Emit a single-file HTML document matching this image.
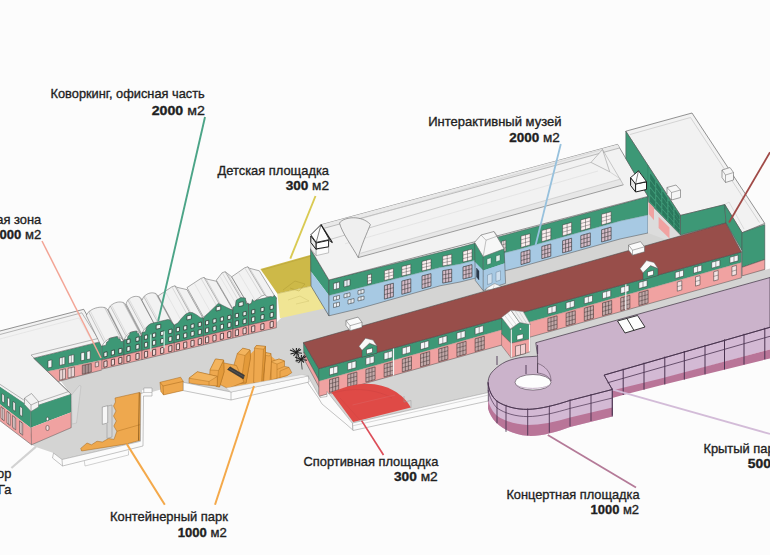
<!DOCTYPE html>
<html><head><meta charset="utf-8"><title>plan</title>
<style>
html,body{margin:0;padding:0;background:#fcfcfc;}
body{width:770px;height:555px;overflow:hidden;}
svg{display:block;font-family:"Liberation Sans",sans-serif;}
svg text{fill:#1f1f1f;stroke:#1f1f1f;stroke-width:0.35px;}
</style></head><body>
<svg width="770" height="555" viewBox="0 0 770 555">
<rect x="0" y="0" width="770" height="555" fill="#fcfcfc"/>
<polygon points="31.5,444.8 36.0,447.0 53.5,453.0 62.0,459.5 139.5,441.5 142.0,441.0 142.0,390.0 152.0,392.0 160.8,389.5 183.3,383.0 231.0,392.0 308.3,376.0 320.0,397.0 327.0,392.0 352.5,423.0 488.0,392.5 538.0,384.0 538.0,343.5 770.0,278.0 770.0,268.5 764.9,270.0 764.9,226.0 690.0,215.0 640.0,200.0 329.0,290.0 300.0,300.0 277.0,322.0 100.0,365.0 60.0,380.0 71.0,395.0 71.2,427.7" fill="#d4d4d3" />
<polygon points="260.4,269.0 311.0,254.7 312.3,285.8 277.3,293.6" fill="#cdb948" />
<polygon points="277.3,293.6 312.3,285.8 326.6,308.0 280.0,318.3" fill="#f0e594" />
<polyline points="283.0,290.0 295.0,281.0 305.0,284.0 299.0,291.0 290.0,288.0" fill="none" stroke="#a8962f" stroke-width="0.4" stroke-linejoin="round" />
<polyline points="288.0,300.0 300.0,296.0 309.0,301.0 296.0,304.0" fill="none" stroke="#c9bd6a" stroke-width="0.4" stroke-linejoin="round" />
<line x1="262.0" y1="270.0" x2="311.0" y2="256.0" stroke="#a8962f" stroke-width="0.4" />
<line x1="277.3" y1="293.6" x2="312.3" y2="285.8" stroke="#b5a545" stroke-width="0.5" />
<polygon points="33.6,358.3 101.8,341.4 101.8,360.1 33.6,374.2" fill="#3d9876" />
<polygon points="33.6,374.2 101.8,360.1 101.8,370.0 33.6,388.0" fill="#f0a2a1" />
<polyline points="33.6,374.2 101.8,360.1" fill="none" stroke="#6a8f7f" stroke-width="0.4" stroke-linejoin="round" />
<polyline points="33.6,388.0 101.8,370.0" fill="none" stroke="#4d4d4d" stroke-width="0.5" stroke-linejoin="round" />
<polygon points="48.0,360.7 51.8,359.8 51.8,367.1 48.0,367.9" fill="#f4f8f8" stroke="#2e2e2e" stroke-width="0.5" stroke-linejoin="round" />
<polygon points="59.6,358.0 64.8,356.8 64.8,364.3 59.6,365.4" fill="#f4f8f8" stroke="#2e2e2e" stroke-width="0.5" stroke-linejoin="round" />
<line x1="62.2" y1="357.4" x2="62.2" y2="364.9" stroke="#2e2e2e" stroke-width="0.45" />
<polygon points="68.7,355.8 73.9,354.6 73.9,362.4 68.7,363.5" fill="#f4f8f8" stroke="#2e2e2e" stroke-width="0.5" stroke-linejoin="round" />
<line x1="71.3" y1="355.2" x2="71.3" y2="362.9" stroke="#2e2e2e" stroke-width="0.45" />
<polygon points="81.0,353.0 84.4,352.2 84.4,360.1 81.0,360.8" fill="#f4f8f8" stroke="#2e2e2e" stroke-width="0.5" stroke-linejoin="round" />
<polygon points="86.9,351.6 90.2,350.8 90.2,358.9 86.9,359.6" fill="#f4f8f8" stroke="#2e2e2e" stroke-width="0.5" stroke-linejoin="round" />
<polygon points="59.6,370.1 65.5,368.8 65.5,378.6 59.6,380.2" fill="#e9d5d5" stroke="#3a2e2e" stroke-width="0.5" stroke-linejoin="round" />
<line x1="62.6" y1="369.4" x2="62.6" y2="379.4" stroke="#3a2e2e" stroke-width="0.45" />
<polygon points="68.0,368.3 74.5,366.9 74.5,376.3 68.0,378.0" fill="#e9d5d5" stroke="#3a2e2e" stroke-width="0.5" stroke-linejoin="round" />
<line x1="71.2" y1="367.6" x2="71.2" y2="377.1" stroke="#3a2e2e" stroke-width="0.45" />
<polygon points="82.3,365.5 91.3,363.5 91.3,371.9 82.3,374.3" fill="#a89090" stroke="#3a2e2e" stroke-width="0.5" stroke-linejoin="round" />
<line x1="85.3" y1="364.8" x2="85.3" y2="373.5" stroke="#3a2e2e" stroke-width="0.45" />
<line x1="88.3" y1="364.2" x2="88.3" y2="372.7" stroke="#3a2e2e" stroke-width="0.45" />
<polygon points="95.3,362.5 98.6,361.8 98.6,366.3 95.3,367.1" fill="#e9d5d5" stroke="#3a2e2e" stroke-width="0.5" stroke-linejoin="round" />
<polygon points="-2.0,331.5 83.7,309.3 100.9,340.0 100.0,341.8 33.6,358.2 71.2,394.3 30.6,407.8 -2.0,386.0" fill="#f2f2f2" stroke="#4d4d4d" stroke-width="0.6" stroke-linejoin="round" />
<polyline points="-2.0,335.0 81.8,312.8 98.0,338.5 31.0,355.0 68.5,391.6 30.6,404.5 -2.0,383.0" fill="none" stroke="#777" stroke-width="0.5" stroke-linejoin="round" />
<polyline points="-2.0,339.5 79.0,318.0 91.0,339.5" fill="none" stroke="#d8d8d8" stroke-width="0.5" stroke-linejoin="round" />
<polygon points="-2.0,385.7 30.6,407.8 30.6,427.7 -2.0,402.8" fill="#3d9876" />
<polygon points="-2.0,402.8 30.6,427.7 31.5,444.8 -2.0,419.3" fill="#f0a2a1" />
<polygon points="30.6,407.8 71.2,394.3 71.2,412.3 30.6,427.7" fill="#3d9876" />
<polygon points="30.6,427.7 71.2,412.3 71.2,427.7 31.5,444.8" fill="#f0a2a1" />
<polyline points="30.6,407.8 31.5,444.8 71.2,427.7 71.2,394.3" fill="none" stroke="#4d4d4d" stroke-width="0.5" stroke-linejoin="round" />
<line x1="-2.0" y1="419.3" x2="31.5" y2="444.8" stroke="#4d4d4d" stroke-width="0.5" />
<polygon points="2.0,393.6 4.2,395.2 4.2,403.1 2.0,401.5" fill="#fff" stroke="#2e2e2e" stroke-width="0.5" stroke-linejoin="round" />
<polygon points="7.5,397.5 9.7,399.1 9.7,407.2 7.5,405.6" fill="#fff" stroke="#2e2e2e" stroke-width="0.5" stroke-linejoin="round" />
<polygon points="13.0,401.4 15.2,402.9 15.2,411.3 13.0,409.7" fill="#fff" stroke="#2e2e2e" stroke-width="0.5" stroke-linejoin="round" />
<polygon points="20.0,406.3 22.2,407.9 22.2,416.5 20.0,414.9" fill="#fff" stroke="#2e2e2e" stroke-width="0.5" stroke-linejoin="round" />
<polygon points="1.0,406.7 4.2,409.2 4.2,420.8 1.0,418.3" fill="#f7dcdc" stroke="#2e2e2e" stroke-width="0.5" stroke-linejoin="round" />
<line x1="2.6" y1="408.0" x2="2.6" y2="419.6" stroke="#2e2e2e" stroke-width="0.45" />
<polygon points="7.0,411.3 10.2,413.8 10.2,425.5 7.0,423.0" fill="#f7dcdc" stroke="#2e2e2e" stroke-width="0.5" stroke-linejoin="round" />
<line x1="8.6" y1="412.6" x2="8.6" y2="424.3" stroke="#2e2e2e" stroke-width="0.45" />
<polygon points="12.5,415.6 15.7,418.0 15.7,429.8 12.5,427.3" fill="#f7dcdc" stroke="#2e2e2e" stroke-width="0.5" stroke-linejoin="round" />
<line x1="14.1" y1="416.8" x2="14.1" y2="428.5" stroke="#2e2e2e" stroke-width="0.45" />
<polygon points="19.5,420.9 22.7,423.4 22.7,435.2 19.5,432.7" fill="#f7dcdc" stroke="#2e2e2e" stroke-width="0.5" stroke-linejoin="round" />
<line x1="21.1" y1="422.1" x2="21.1" y2="434.0" stroke="#2e2e2e" stroke-width="0.45" />
<ellipse cx="47.5" cy="419" rx="1.3" ry="1.8" fill="#fff" stroke="#2e2e2e" stroke-width="0.5"/>
<rect x="46" y="425.5" width="3" height="5" rx="1.4" fill="#f7dcdc" stroke="#2e2e2e" stroke-width="0.5"/>
<polygon points="71.5,395.0 79.3,385.5 81.0,386.0 76.5,423.0 72.0,424.0" fill="#dbdbdb" stroke="#adadad" stroke-width="0.4" stroke-linejoin="round" />
<polygon points="24.5,398.0 31.5,393.5 38.5,401.5 38.5,407.0 31.0,411.5 24.5,404.5" fill="#f2f2f2" stroke="#666" stroke-width="0.5" stroke-linejoin="round" />
<polyline points="24.5,398.0 31.0,405.0 38.5,401.5" fill="none" stroke="#666" stroke-width="0.5" stroke-linejoin="round" />
<line x1="31.0" y1="405.0" x2="31.0" y2="411.5" stroke="#666" stroke-width="0.5" />
<path d="M86.3,315.6 C88.9,307.6 105.7,303.9 108.3,310.8 L124.0,341.9 C121.3,333.0 104.5,337.0 101.8,347.1 Z" fill="#f2f2f2" stroke="#5a5a5a" stroke-width="0.5" stroke-linejoin="round"/>
<line x1="104.0" y1="341.8" x2="88.5" y2="311.4" stroke="#8a8a8a" stroke-width="0.45" />
<line x1="105.4" y1="340.5" x2="89.8" y2="310.1" stroke="#c2c2c2" stroke-width="0.45" />
<line x1="120.0" y1="337.0" x2="104.3" y2="306.9" stroke="#9a9a9a" stroke-width="0.45" />
<line x1="121.8" y1="337.8" x2="106.1" y2="307.7" stroke="#bdbdbd" stroke-width="0.45" />
<line x1="122.9" y1="339.1" x2="107.2" y2="309.1" stroke="#8a8a8a" stroke-width="0.45" />
<path d="M108.3,309.8 C110.4,301.9 124.0,298.9 126.1,305.9 L142.0,336.6 C139.8,327.6 126.2,330.9 124.0,340.9 Z" fill="#f2f2f2" stroke="#5a5a5a" stroke-width="0.5" stroke-linejoin="round"/>
<line x1="125.8" y1="335.6" x2="110.1" y2="305.6" stroke="#8a8a8a" stroke-width="0.45" />
<line x1="126.9" y1="334.4" x2="111.2" y2="304.4" stroke="#c2c2c2" stroke-width="0.45" />
<line x1="138.8" y1="331.6" x2="122.9" y2="301.8" stroke="#9a9a9a" stroke-width="0.45" />
<line x1="140.2" y1="332.4" x2="124.3" y2="302.7" stroke="#bdbdbd" stroke-width="0.45" />
<line x1="141.1" y1="333.8" x2="125.2" y2="304.1" stroke="#8a8a8a" stroke-width="0.45" />
<path d="M126.1,303.9 C128.0,296.0 140.1,293.4 142.0,300.5 L158.0,330.8 C156.1,321.8 143.9,324.6 142.0,334.6 Z" fill="#f2f2f2" stroke="#5a5a5a" stroke-width="0.5" stroke-linejoin="round"/>
<line x1="143.6" y1="329.4" x2="127.7" y2="299.8" stroke="#8a8a8a" stroke-width="0.45" />
<line x1="144.6" y1="328.2" x2="128.7" y2="298.6" stroke="#c2c2c2" stroke-width="0.45" />
<line x1="155.1" y1="325.7" x2="139.1" y2="296.3" stroke="#9a9a9a" stroke-width="0.45" />
<line x1="156.4" y1="326.6" x2="140.4" y2="297.2" stroke="#bdbdbd" stroke-width="0.45" />
<line x1="157.2" y1="328.0" x2="141.2" y2="298.6" stroke="#8a8a8a" stroke-width="0.45" />
<path d="M142.0,300.5 C143.9,292.5 156.2,289.9 158.1,296.9 L174.3,326.9 C172.3,317.9 160.0,320.8 158.0,330.8 Z" fill="#f2f2f2" stroke="#5a5a5a" stroke-width="0.5" stroke-linejoin="round"/>
<line x1="159.6" y1="325.6" x2="143.6" y2="296.3" stroke="#8a8a8a" stroke-width="0.45" />
<line x1="160.6" y1="324.4" x2="144.6" y2="295.1" stroke="#c2c2c2" stroke-width="0.45" />
<line x1="171.4" y1="321.8" x2="155.2" y2="292.8" stroke="#9a9a9a" stroke-width="0.45" />
<line x1="172.7" y1="322.7" x2="156.5" y2="293.7" stroke="#bdbdbd" stroke-width="0.45" />
<line x1="173.5" y1="324.1" x2="157.3" y2="295.1" stroke="#8a8a8a" stroke-width="0.45" />
<polygon points="158.1,295.9 171.9,286.8 174.9,285.8 176.9,287.3 187.0,289.6 203.4,319.0 193.2,316.9 191.2,315.4 188.2,316.4 174.3,325.9" fill="#f2f2f2" stroke="#5a5a5a" stroke-width="0.5" stroke-linejoin="round" />
<line x1="191.2" y1="315.4" x2="174.9" y2="285.8" stroke="#777" stroke-width="0.5" />
<line x1="193.2" y1="316.9" x2="176.9" y2="287.3" stroke="#aaa" stroke-width="0.45" />
<line x1="188.2" y1="316.4" x2="171.9" y2="286.8" stroke="#bbb" stroke-width="0.45" />
<line x1="181.6" y1="321.4" x2="165.3" y2="291.5" stroke="#cfcfcf" stroke-width="0.4" />
<polygon points="187.0,287.6 201.0,278.4 204.0,277.4 206.0,278.9 216.3,281.2 233.0,310.0 222.6,307.9 220.6,306.4 217.6,307.4 203.4,317.0" fill="#f2f2f2" stroke="#5a5a5a" stroke-width="0.5" stroke-linejoin="round" />
<line x1="220.6" y1="306.4" x2="204.0" y2="277.4" stroke="#777" stroke-width="0.5" />
<line x1="222.6" y1="307.9" x2="206.0" y2="278.9" stroke="#aaa" stroke-width="0.45" />
<line x1="217.6" y1="307.4" x2="201.0" y2="278.4" stroke="#bbb" stroke-width="0.45" />
<line x1="210.8" y1="312.5" x2="194.3" y2="283.2" stroke="#cfcfcf" stroke-width="0.4" />
<polygon points="216.3,280.2 222.2,272.7 225.2,271.7 227.2,273.2 231.7,276.8 248.5,305.3 244.0,301.9 242.0,300.4 239.0,301.4 233.0,309.0" fill="#f2f2f2" stroke="#5a5a5a" stroke-width="0.5" stroke-linejoin="round" />
<line x1="242.0" y1="300.4" x2="225.2" y2="271.7" stroke="#777" stroke-width="0.5" />
<line x1="244.0" y1="301.9" x2="227.2" y2="273.2" stroke="#aaa" stroke-width="0.45" />
<line x1="239.0" y1="301.4" x2="222.2" y2="272.7" stroke="#bbb" stroke-width="0.45" />
<line x1="236.9" y1="305.3" x2="220.1" y2="276.6" stroke="#cfcfcf" stroke-width="0.4" />
<polygon points="231.7,276.8 244.7,267.8 247.7,266.8 249.7,268.3 259.3,270.8 276.4,298.7 266.7,296.5 264.7,295.0 261.7,296.0 248.5,305.3" fill="#f2f2f2" stroke="#5a5a5a" stroke-width="0.5" stroke-linejoin="round" />
<line x1="264.7" y1="295.0" x2="247.7" y2="266.8" stroke="#777" stroke-width="0.5" />
<line x1="266.7" y1="296.5" x2="249.7" y2="268.3" stroke="#aaa" stroke-width="0.45" />
<line x1="261.7" y1="296.0" x2="244.7" y2="267.8" stroke="#bbb" stroke-width="0.45" />
<line x1="255.5" y1="300.9" x2="238.6" y2="272.5" stroke="#cfcfcf" stroke-width="0.4" />
<polygon points="101.8,346.1 105.8,345.2 106.7,342.0 108.5,341.1 109.3,338.4 117.3,336.5 118.2,338.7 120.0,338.8 120.9,341.6 124.0,340.9 124.0,354.9 101.8,360.1" fill="#3d9876" stroke="#4d4d4d" stroke-width="0.5" stroke-linejoin="round" />
<polygon points="101.8,360.1 124.0,354.9 124.0,363.9 101.8,369.1" fill="#f0a2a1" stroke="#4d4d4d" stroke-width="0.5" stroke-linejoin="round" />
<polygon points="103.9,361.5 107.1,360.7 107.1,366.5 103.9,367.3" fill="#f3d8d8" stroke="#3a2a2a" stroke-width="0.75" stroke-linejoin="round" />
<polygon points="103.9,352.5 107.1,351.7 107.1,356.3 103.9,357.1" fill="#eaf2ef" stroke="#27352f" stroke-width="0.75" stroke-linejoin="round" />
<polygon points="111.3,359.7 114.5,358.9 114.5,364.7 111.3,365.5" fill="#f3d8d8" stroke="#3a2a2a" stroke-width="0.75" stroke-linejoin="round" />
<polygon points="111.3,350.7 114.5,349.9 114.5,354.5 111.3,355.3" fill="#eaf2ef" stroke="#27352f" stroke-width="0.75" stroke-linejoin="round" />
<polygon points="118.7,357.9 121.9,357.2 121.9,363.0 118.7,363.7" fill="#f3d8d8" stroke="#3a2a2a" stroke-width="0.75" stroke-linejoin="round" />
<polygon points="118.7,348.9 121.9,348.2 121.9,352.8 118.7,353.5" fill="#eaf2ef" stroke="#27352f" stroke-width="0.75" stroke-linejoin="round" />
<polygon points="124.0,339.9 127.2,339.1 128.0,335.9 129.4,335.1 130.1,332.4 136.6,330.9 137.3,333.2 138.8,333.4 139.5,336.2 142.0,335.6 142.0,350.6 124.0,354.9" fill="#3d9876" stroke="#4d4d4d" stroke-width="0.5" stroke-linejoin="round" />
<polygon points="124.0,354.9 142.0,350.6 142.0,359.6 124.0,363.9" fill="#f0a2a1" stroke="#4d4d4d" stroke-width="0.5" stroke-linejoin="round" />
<polygon points="126.9,356.0 130.1,355.2 130.1,361.0 126.9,361.8" fill="#f3d8d8" stroke="#3a2a2a" stroke-width="0.75" stroke-linejoin="round" />
<polygon points="126.9,347.0 130.1,346.2 130.1,350.8 126.9,351.6" fill="#eaf2ef" stroke="#27352f" stroke-width="0.75" stroke-linejoin="round" />
<polygon points="126.9,339.7 130.1,338.9 130.1,342.9 126.9,343.7" fill="#eaf2ef" stroke="#27352f" stroke-width="0.75" stroke-linejoin="round" />
<polygon points="135.9,353.9 139.1,353.1 139.1,358.9 135.9,359.7" fill="#f3d8d8" stroke="#3a2a2a" stroke-width="0.75" stroke-linejoin="round" />
<polygon points="135.9,344.9 139.1,344.1 139.1,348.7 135.9,349.5" fill="#eaf2ef" stroke="#27352f" stroke-width="0.75" stroke-linejoin="round" />
<polygon points="135.9,337.6 139.1,336.8 139.1,340.8 135.9,341.6" fill="#eaf2ef" stroke="#27352f" stroke-width="0.75" stroke-linejoin="round" />
<polygon points="142.0,332.6 145.2,331.8 146.5,327.5 148.5,325.1 151.0,323.5 167.8,319.5 170.1,319.9 171.7,322.5 174.3,324.9 174.3,342.9 142.0,350.6" fill="#3d9876" stroke="#4d4d4d" stroke-width="0.5" stroke-linejoin="round" />
<polygon points="142.0,350.6 174.3,342.9 174.3,351.9 142.0,359.6" fill="#f0a2a1" stroke="#4d4d4d" stroke-width="0.5" stroke-linejoin="round" />
<polygon points="144.4,351.8 147.6,351.1 147.6,356.9 144.4,357.6" fill="#f3d8d8" stroke="#3a2a2a" stroke-width="0.75" stroke-linejoin="round" />
<polygon points="144.4,342.8 147.6,342.1 147.6,346.7 144.4,347.4" fill="#eaf2ef" stroke="#27352f" stroke-width="0.75" stroke-linejoin="round" />
<polygon points="144.4,335.5 147.6,334.8 147.6,338.8 144.4,339.5" fill="#eaf2ef" stroke="#27352f" stroke-width="0.75" stroke-linejoin="round" />
<polygon points="152.5,349.9 155.7,349.1 155.7,354.9 152.5,355.7" fill="#f3d8d8" stroke="#3a2a2a" stroke-width="0.75" stroke-linejoin="round" />
<polygon points="152.5,340.9 155.7,340.1 155.7,344.7 152.5,345.5" fill="#eaf2ef" stroke="#27352f" stroke-width="0.75" stroke-linejoin="round" />
<polygon points="152.5,333.6 155.7,332.8 155.7,336.8 152.5,337.6" fill="#eaf2ef" stroke="#27352f" stroke-width="0.75" stroke-linejoin="round" />
<polygon points="160.6,348.0 163.8,347.2 163.8,353.0 160.6,353.8" fill="#f3d8d8" stroke="#3a2a2a" stroke-width="0.75" stroke-linejoin="round" />
<polygon points="160.6,339.0 163.8,338.2 163.8,342.8 160.6,343.6" fill="#eaf2ef" stroke="#27352f" stroke-width="0.75" stroke-linejoin="round" />
<polygon points="160.6,331.7 163.8,330.9 163.8,334.9 160.6,335.7" fill="#eaf2ef" stroke="#27352f" stroke-width="0.75" stroke-linejoin="round" />
<polygon points="168.7,346.1 171.9,345.3 171.9,351.1 168.7,351.9" fill="#f3d8d8" stroke="#3a2a2a" stroke-width="0.75" stroke-linejoin="round" />
<polygon points="168.7,337.1 171.9,336.3 171.9,340.9 168.7,341.7" fill="#eaf2ef" stroke="#27352f" stroke-width="0.75" stroke-linejoin="round" />
<polygon points="168.7,329.8 171.9,329.0 171.9,333.0 168.7,333.8" fill="#eaf2ef" stroke="#27352f" stroke-width="0.75" stroke-linejoin="round" />
<polygon points="156.2,325.2 160.7,324.2 160.7,328.2 156.2,329.2" fill="#eaf2ef" stroke="#27352f" stroke-width="0.7" stroke-linejoin="round" />
<polygon points="174.3,324.9 177.8,323.1 181.6,318.2 185.4,314.3 188.9,312.5 192.3,312.6 196.4,314.7 200.5,317.7 203.4,318.0 203.4,336.0 174.3,342.9" fill="#3d9876" stroke="#4d4d4d" stroke-width="0.5" stroke-linejoin="round" />
<polygon points="174.3,342.9 203.4,336.0 203.4,345.0 174.3,351.9" fill="#f0a2a1" stroke="#4d4d4d" stroke-width="0.5" stroke-linejoin="round" />
<polygon points="176.3,344.2 179.5,343.5 179.5,349.3 176.3,350.0" fill="#f3d8d8" stroke="#3a2a2a" stroke-width="0.75" stroke-linejoin="round" />
<polygon points="176.3,335.2 179.5,334.5 179.5,339.1 176.3,339.8" fill="#eaf2ef" stroke="#27352f" stroke-width="0.75" stroke-linejoin="round" />
<polygon points="176.3,327.9 179.5,327.2 179.5,331.2 176.3,331.9" fill="#eaf2ef" stroke="#27352f" stroke-width="0.75" stroke-linejoin="round" />
<polygon points="183.6,342.5 186.8,341.8 186.8,347.6 183.6,348.3" fill="#f3d8d8" stroke="#3a2a2a" stroke-width="0.75" stroke-linejoin="round" />
<polygon points="183.6,333.5 186.8,332.8 186.8,337.4 183.6,338.1" fill="#eaf2ef" stroke="#27352f" stroke-width="0.75" stroke-linejoin="round" />
<polygon points="183.6,326.2 186.8,325.5 186.8,329.5 183.6,330.2" fill="#eaf2ef" stroke="#27352f" stroke-width="0.75" stroke-linejoin="round" />
<polygon points="190.9,340.8 194.1,340.0 194.1,345.8 190.9,346.6" fill="#f3d8d8" stroke="#3a2a2a" stroke-width="0.75" stroke-linejoin="round" />
<polygon points="190.9,331.8 194.1,331.0 194.1,335.6 190.9,336.4" fill="#eaf2ef" stroke="#27352f" stroke-width="0.75" stroke-linejoin="round" />
<polygon points="190.9,324.5 194.1,323.7 194.1,327.7 190.9,328.5" fill="#eaf2ef" stroke="#27352f" stroke-width="0.75" stroke-linejoin="round" />
<polygon points="198.2,339.1 201.4,338.3 201.4,344.1 198.2,344.9" fill="#f3d8d8" stroke="#3a2a2a" stroke-width="0.75" stroke-linejoin="round" />
<polygon points="198.2,330.1 201.4,329.3 201.4,333.9 198.2,334.7" fill="#eaf2ef" stroke="#27352f" stroke-width="0.75" stroke-linejoin="round" />
<polygon points="198.2,322.8 201.4,322.0 201.4,326.0 198.2,326.8" fill="#eaf2ef" stroke="#27352f" stroke-width="0.75" stroke-linejoin="round" />
<polygon points="186.9,316.0 191.4,314.9 191.4,318.9 186.9,320.0" fill="#eaf2ef" stroke="#27352f" stroke-width="0.7" stroke-linejoin="round" />
<polygon points="203.4,318.0 205.8,315.5 216.7,304.9 218.2,303.5 220.0,304.1 230.9,309.5 233.0,310.0 233.0,329.0 203.4,336.0" fill="#3d9876" stroke="#4d4d4d" stroke-width="0.5" stroke-linejoin="round" />
<polygon points="203.4,336.0 233.0,329.0 233.0,338.0 203.4,345.0" fill="#f0a2a1" stroke="#4d4d4d" stroke-width="0.5" stroke-linejoin="round" />
<polygon points="205.5,337.3 208.7,336.6 208.7,342.4 205.5,343.1" fill="#f3d8d8" stroke="#3a2a2a" stroke-width="0.75" stroke-linejoin="round" />
<polygon points="205.5,328.3 208.7,327.6 208.7,332.2 205.5,332.9" fill="#eaf2ef" stroke="#27352f" stroke-width="0.75" stroke-linejoin="round" />
<polygon points="205.5,321.0 208.7,320.3 208.7,324.3 205.5,325.0" fill="#eaf2ef" stroke="#27352f" stroke-width="0.75" stroke-linejoin="round" />
<polygon points="212.9,335.6 216.1,334.8 216.1,340.6 212.9,341.4" fill="#f3d8d8" stroke="#3a2a2a" stroke-width="0.75" stroke-linejoin="round" />
<polygon points="212.9,326.6 216.1,325.8 216.1,330.4 212.9,331.2" fill="#eaf2ef" stroke="#27352f" stroke-width="0.75" stroke-linejoin="round" />
<polygon points="212.9,319.3 216.1,318.5 216.1,322.5 212.9,323.3" fill="#eaf2ef" stroke="#27352f" stroke-width="0.75" stroke-linejoin="round" />
<polygon points="220.3,333.8 223.5,333.0 223.5,338.8 220.3,339.6" fill="#f3d8d8" stroke="#3a2a2a" stroke-width="0.75" stroke-linejoin="round" />
<polygon points="220.3,324.8 223.5,324.0 223.5,328.6 220.3,329.4" fill="#eaf2ef" stroke="#27352f" stroke-width="0.75" stroke-linejoin="round" />
<polygon points="220.3,317.5 223.5,316.7 223.5,320.7 220.3,321.5" fill="#eaf2ef" stroke="#27352f" stroke-width="0.75" stroke-linejoin="round" />
<polygon points="227.7,332.0 230.9,331.3 230.9,337.1 227.7,337.8" fill="#f3d8d8" stroke="#3a2a2a" stroke-width="0.75" stroke-linejoin="round" />
<polygon points="227.7,323.0 230.9,322.3 230.9,326.9 227.7,327.6" fill="#eaf2ef" stroke="#27352f" stroke-width="0.75" stroke-linejoin="round" />
<polygon points="227.7,315.7 230.9,315.0 230.9,319.0 227.7,319.7" fill="#eaf2ef" stroke="#27352f" stroke-width="0.75" stroke-linejoin="round" />
<polygon points="216.2,307.0 220.7,305.9 220.7,309.9 216.2,311.0" fill="#eaf2ef" stroke="#27352f" stroke-width="0.7" stroke-linejoin="round" />
<polygon points="233.0,307.0 235.3,306.4 236.1,300.3 240.8,297.6 245.4,298.0 246.2,303.9 248.5,303.3 248.5,325.3 233.0,329.0" fill="#3d9876" stroke="#4d4d4d" stroke-width="0.5" stroke-linejoin="round" />
<polygon points="233.0,329.0 248.5,325.3 248.5,334.3 233.0,338.0" fill="#f0a2a1" stroke="#4d4d4d" stroke-width="0.5" stroke-linejoin="round" />
<polygon points="235.3,330.2 238.5,329.5 238.5,335.3 235.3,336.0" fill="#f3d8d8" stroke="#3a2a2a" stroke-width="0.75" stroke-linejoin="round" />
<polygon points="235.3,321.2 238.5,320.5 238.5,325.1 235.3,325.8" fill="#eaf2ef" stroke="#27352f" stroke-width="0.75" stroke-linejoin="round" />
<polygon points="235.3,313.9 238.5,313.2 238.5,317.2 235.3,317.9" fill="#eaf2ef" stroke="#27352f" stroke-width="0.75" stroke-linejoin="round" />
<polygon points="243.0,328.4 246.2,327.6 246.2,333.4 243.0,334.2" fill="#f3d8d8" stroke="#3a2a2a" stroke-width="0.75" stroke-linejoin="round" />
<polygon points="243.0,319.4 246.2,318.6 246.2,323.2 243.0,324.0" fill="#eaf2ef" stroke="#27352f" stroke-width="0.75" stroke-linejoin="round" />
<polygon points="243.0,312.1 246.2,311.3 246.2,315.3 243.0,316.1" fill="#eaf2ef" stroke="#27352f" stroke-width="0.75" stroke-linejoin="round" />
<polygon points="238.8,302.6 243.2,301.6 243.2,305.6 238.8,306.6" fill="#eaf2ef" stroke="#27352f" stroke-width="0.7" stroke-linejoin="round" />
<polygon points="248.5,304.3 251.3,303.6 252.4,299.4 254.1,301.5 256.3,300.0 270.8,296.5 272.8,297.0 274.2,295.2 276.4,297.7 276.4,318.7 248.5,325.3" fill="#3d9876" stroke="#4d4d4d" stroke-width="0.5" stroke-linejoin="round" />
<polygon points="248.5,325.3 276.4,318.7 276.4,327.7 248.5,334.3" fill="#f0a2a1" stroke="#4d4d4d" stroke-width="0.5" stroke-linejoin="round" />
<polygon points="251.6,326.4 254.8,325.6 254.8,331.4 251.6,332.2" fill="#f3d8d8" stroke="#3a2a2a" stroke-width="0.75" stroke-linejoin="round" />
<polygon points="251.6,317.4 254.8,316.6 254.8,321.2 251.6,322.0" fill="#eaf2ef" stroke="#27352f" stroke-width="0.75" stroke-linejoin="round" />
<polygon points="251.6,310.1 254.8,309.3 254.8,313.3 251.6,314.1" fill="#eaf2ef" stroke="#27352f" stroke-width="0.75" stroke-linejoin="round" />
<polygon points="260.8,324.2 264.0,323.4 264.0,329.2 260.8,330.0" fill="#f3d8d8" stroke="#3a2a2a" stroke-width="0.75" stroke-linejoin="round" />
<polygon points="260.8,315.2 264.0,314.4 264.0,319.0 260.8,319.8" fill="#eaf2ef" stroke="#27352f" stroke-width="0.75" stroke-linejoin="round" />
<polygon points="260.8,307.9 264.0,307.1 264.0,311.1 260.8,311.9" fill="#eaf2ef" stroke="#27352f" stroke-width="0.75" stroke-linejoin="round" />
<polygon points="270.1,322.0 273.3,321.2 273.3,327.0 270.1,327.8" fill="#f3d8d8" stroke="#3a2a2a" stroke-width="0.75" stroke-linejoin="round" />
<polygon points="270.1,313.0 273.3,312.2 273.3,316.8 270.1,317.6" fill="#eaf2ef" stroke="#27352f" stroke-width="0.75" stroke-linejoin="round" />
<polygon points="270.1,305.7 273.3,304.9 273.3,308.9 270.1,309.7" fill="#eaf2ef" stroke="#27352f" stroke-width="0.75" stroke-linejoin="round" />
<line x1="150.8" y1="334.5" x2="150.8" y2="351.5" stroke="#c3e9da" stroke-width="1.3" />
<line x1="164.2" y1="331.3" x2="164.2" y2="348.3" stroke="#c3e9da" stroke-width="1.3" />
<polygon points="310.5,249.0 329.0,280.0 329.0,295.5 310.5,271.0" fill="#3d9876" />
<polygon points="310.5,271.0 329.0,295.5 329.0,316.0 311.0,286.0" fill="#a7c9e3" />
<polygon points="310.5,249.0 329.0,280.0 329.0,316.0 311.0,286.0" fill="none" stroke="#4d4d4d" stroke-width="0.6" stroke-linejoin="round" />
<polygon points="329.0,279.8 400.0,262.3 460.0,247.3 520.0,231.0 620.0,204.3 648.0,196.4 648.0,215.0 620.0,221.0 520.0,249.0 460.0,264.0 440.0,267.6 360.0,287.7 329.0,295.5" fill="#3d9876" />
<polygon points="329.0,295.5 360.0,287.7 440.0,267.6 460.0,264.0 520.0,249.0 620.0,221.0 648.0,215.0 648.0,233.0 620.0,239.0 520.0,267.0 460.0,282.0 440.0,285.8 360.0,308.4 329.0,315.8" fill="#a7c9e3" />
<polygon points="329.0,279.8 400.0,262.3 460.0,247.3 520.0,231.0 620.0,204.3 648.0,196.4 648.0,233.0 620.0,239.0 520.0,267.0 460.0,282.0 440.0,285.8 360.0,308.4 329.0,315.8" fill="none" stroke="#4d4d4d" stroke-width="0.5" stroke-linejoin="round" />
<polyline points="329.0,295.5 360.0,287.7 440.0,267.6 460.0,264.0 520.0,249.0 620.0,221.0 648.0,215.0" fill="none" stroke="#5b8f86" stroke-width="0.4" stroke-linejoin="round" />
<polygon points="310.5,249.0 322.0,224.5 617.6,144.4 648.0,196.4 329.0,280.0" fill="#f2f2f2" stroke="#4d4d4d" stroke-width="0.6" stroke-linejoin="round" />
<polygon points="322.0,224.5 617.6,144.4 619.5,148.0 324.0,228.3" fill="#e9e9e9" />
<line x1="324.0" y1="228.3" x2="619.5" y2="148.0" stroke="#8f8f8f" stroke-width="0.55" />
<polygon points="360.3,253.3 620.5,179.0 623.4,184.8 358.2,257.6" fill="#e7e7e7" />
<line x1="330.0" y1="239.5" x2="591.0" y2="162.4" stroke="#a8a8a8" stroke-width="0.55" />
<line x1="345.0" y1="243.8" x2="598.0" y2="171.0" stroke="#d6d6d6" stroke-width="0.5" />
<line x1="360.3" y1="253.3" x2="620.5" y2="179.0" stroke="#b8b8b8" stroke-width="0.5" />
<line x1="358.2" y1="257.6" x2="623.4" y2="184.8" stroke="#6f6f6f" stroke-width="0.65" />
<line x1="353.0" y1="221.0" x2="602.5" y2="149.5" stroke="#c9c9c9" stroke-width="0.5" />
<path d="M339.5,223 C344,216.5 362,215 370.4,224.5 C367,233 361,246 358.2,257.6 C352,246 342,233 339.5,223 Z" fill="#efefef" stroke="#707070" stroke-width="0.65"/>
<polygon points="591.0,162.4 602.5,149.5 609.7,171.8" fill="#f1f1f1" stroke="#8a8a8a" stroke-width="0.5" stroke-linejoin="round" />
<polyline points="602.5,149.5 623.4,184.8" fill="none" stroke="#9a9a9a" stroke-width="0.5" stroke-linejoin="round" />
<polyline points="609.7,171.8 620.5,179.0" fill="none" stroke="#b0b0b0" stroke-width="0.45" stroke-linejoin="round" />
<polygon points="367.5,275.0 371.5,274.0 371.5,283.3 367.5,284.3" fill="#f3ecec" stroke="#2e2e2e" stroke-width="0.5" stroke-linejoin="round" />
<line x1="367.5" y1="278.1" x2="371.5" y2="277.1" stroke="#2e2e2e" stroke-width="0.4" />
<line x1="367.5" y1="281.2" x2="371.5" y2="280.2" stroke="#2e2e2e" stroke-width="0.4" />
<polygon points="384.4,270.8 393.4,268.5 393.4,278.2 384.4,280.5" fill="#fbeeee" stroke="#3a3a3a" stroke-width="0.5" stroke-linejoin="round" />
<line x1="388.9" y1="269.7" x2="388.9" y2="279.4" stroke="#3a3a3a" stroke-width="0.45" />
<line x1="384.4" y1="274.0" x2="393.4" y2="271.8" stroke="#3a3a3a" stroke-width="0.4" />
<line x1="384.4" y1="277.3" x2="393.4" y2="275.0" stroke="#3a3a3a" stroke-width="0.4" />
<polygon points="384.4,285.6 393.4,283.2 393.4,296.6 384.4,299.1" fill="#d5bcc8" stroke="#2a2a2a" stroke-width="0.6" stroke-linejoin="round" />
<line x1="387.4" y1="284.8" x2="387.4" y2="298.3" stroke="#2a2a2a" stroke-width="0.54" />
<line x1="390.4" y1="284.0" x2="390.4" y2="297.4" stroke="#2a2a2a" stroke-width="0.54" />
<line x1="384.4" y1="290.1" x2="393.4" y2="287.7" stroke="#2a2a2a" stroke-width="0.48" />
<line x1="384.4" y1="294.6" x2="393.4" y2="292.2" stroke="#2a2a2a" stroke-width="0.48" />
<polygon points="401.8,266.5 410.8,264.2 410.8,273.9 401.8,276.1" fill="#fbeeee" stroke="#3a3a3a" stroke-width="0.5" stroke-linejoin="round" />
<line x1="406.3" y1="265.3" x2="406.3" y2="275.0" stroke="#3a3a3a" stroke-width="0.45" />
<line x1="401.8" y1="269.7" x2="410.8" y2="267.4" stroke="#3a3a3a" stroke-width="0.4" />
<line x1="401.8" y1="272.9" x2="410.8" y2="270.6" stroke="#3a3a3a" stroke-width="0.4" />
<polygon points="401.8,281.1 410.8,278.8 410.8,291.8 401.8,294.3" fill="#d5bcc8" stroke="#2a2a2a" stroke-width="0.6" stroke-linejoin="round" />
<line x1="404.8" y1="280.3" x2="404.8" y2="293.4" stroke="#2a2a2a" stroke-width="0.54" />
<line x1="407.8" y1="279.5" x2="407.8" y2="292.6" stroke="#2a2a2a" stroke-width="0.54" />
<line x1="401.8" y1="285.5" x2="410.8" y2="283.1" stroke="#2a2a2a" stroke-width="0.48" />
<line x1="401.8" y1="289.9" x2="410.8" y2="287.4" stroke="#2a2a2a" stroke-width="0.48" />
<polygon points="422.0,261.4 431.0,259.1 431.0,268.8 422.0,271.0" fill="#fbeeee" stroke="#3a3a3a" stroke-width="0.5" stroke-linejoin="round" />
<line x1="426.5" y1="260.3" x2="426.5" y2="269.9" stroke="#3a3a3a" stroke-width="0.45" />
<line x1="422.0" y1="264.6" x2="431.0" y2="262.4" stroke="#3a3a3a" stroke-width="0.4" />
<line x1="422.0" y1="267.8" x2="431.0" y2="265.6" stroke="#3a3a3a" stroke-width="0.4" />
<polygon points="422.0,275.9 431.0,273.6 431.0,286.1 422.0,288.6" fill="#d5bcc8" stroke="#2a2a2a" stroke-width="0.6" stroke-linejoin="round" />
<line x1="425.0" y1="275.1" x2="425.0" y2="287.8" stroke="#2a2a2a" stroke-width="0.54" />
<line x1="428.0" y1="274.3" x2="428.0" y2="287.0" stroke="#2a2a2a" stroke-width="0.54" />
<line x1="422.0" y1="280.1" x2="431.0" y2="277.7" stroke="#2a2a2a" stroke-width="0.48" />
<line x1="422.0" y1="284.4" x2="431.0" y2="281.9" stroke="#2a2a2a" stroke-width="0.48" />
<polygon points="442.7,256.3 451.7,254.2 451.7,264.4 442.7,266.0" fill="#fbeeee" stroke="#3a3a3a" stroke-width="0.5" stroke-linejoin="round" />
<line x1="447.2" y1="255.2" x2="447.2" y2="265.2" stroke="#3a3a3a" stroke-width="0.45" />
<line x1="442.7" y1="259.5" x2="451.7" y2="257.6" stroke="#3a3a3a" stroke-width="0.4" />
<line x1="442.7" y1="262.8" x2="451.7" y2="261.0" stroke="#3a3a3a" stroke-width="0.4" />
<polygon points="442.7,270.7 451.7,269.1 451.7,281.4 442.7,283.1" fill="#d5bcc8" stroke="#2a2a2a" stroke-width="0.6" stroke-linejoin="round" />
<line x1="445.7" y1="270.2" x2="445.7" y2="282.5" stroke="#2a2a2a" stroke-width="0.54" />
<line x1="448.7" y1="269.7" x2="448.7" y2="282.0" stroke="#2a2a2a" stroke-width="0.54" />
<line x1="442.7" y1="274.9" x2="451.7" y2="273.2" stroke="#2a2a2a" stroke-width="0.48" />
<line x1="442.7" y1="279.0" x2="451.7" y2="277.3" stroke="#2a2a2a" stroke-width="0.48" />
<polygon points="463.0,251.5 472.0,249.1 472.0,259.8 463.0,262.1" fill="#fbeeee" stroke="#3a3a3a" stroke-width="0.5" stroke-linejoin="round" />
<line x1="467.5" y1="250.3" x2="467.5" y2="260.9" stroke="#3a3a3a" stroke-width="0.45" />
<line x1="463.0" y1="255.0" x2="472.0" y2="252.7" stroke="#3a3a3a" stroke-width="0.4" />
<line x1="463.0" y1="258.6" x2="472.0" y2="256.3" stroke="#3a3a3a" stroke-width="0.4" />
<polygon points="463.0,266.9 472.0,264.6 472.0,276.8 463.0,279.1" fill="#d5bcc8" stroke="#2a2a2a" stroke-width="0.6" stroke-linejoin="round" />
<line x1="466.0" y1="266.1" x2="466.0" y2="278.3" stroke="#2a2a2a" stroke-width="0.54" />
<line x1="469.0" y1="265.4" x2="469.0" y2="277.6" stroke="#2a2a2a" stroke-width="0.54" />
<line x1="463.0" y1="270.9" x2="472.0" y2="268.7" stroke="#2a2a2a" stroke-width="0.48" />
<line x1="463.0" y1="275.0" x2="472.0" y2="272.8" stroke="#2a2a2a" stroke-width="0.48" />
<polygon points="501.8,241.2 505.8,240.2 505.8,251.3 501.8,252.3" fill="#fbeeee" stroke="#3a3a3a" stroke-width="0.5" stroke-linejoin="round" />
<line x1="503.8" y1="240.7" x2="503.8" y2="251.8" stroke="#3a3a3a" stroke-width="0.45" />
<line x1="501.8" y1="244.9" x2="505.8" y2="243.9" stroke="#3a3a3a" stroke-width="0.4" />
<line x1="501.8" y1="248.6" x2="505.8" y2="247.6" stroke="#3a3a3a" stroke-width="0.4" />
<polygon points="521.0,236.1 530.0,233.7 530.0,244.9 521.0,247.5" fill="#fbeeee" stroke="#3a3a3a" stroke-width="0.5" stroke-linejoin="round" />
<line x1="525.5" y1="234.9" x2="525.5" y2="246.2" stroke="#3a3a3a" stroke-width="0.45" />
<line x1="521.0" y1="239.9" x2="530.0" y2="237.4" stroke="#3a3a3a" stroke-width="0.4" />
<line x1="521.0" y1="243.7" x2="530.0" y2="241.2" stroke="#3a3a3a" stroke-width="0.4" />
<polygon points="521.0,252.3 530.0,249.8 530.0,262.0 521.0,264.6" fill="#d5bcc8" stroke="#2a2a2a" stroke-width="0.6" stroke-linejoin="round" />
<line x1="524.0" y1="251.5" x2="524.0" y2="263.7" stroke="#2a2a2a" stroke-width="0.54" />
<line x1="527.0" y1="250.6" x2="527.0" y2="262.9" stroke="#2a2a2a" stroke-width="0.54" />
<line x1="521.0" y1="256.4" x2="530.0" y2="253.9" stroke="#2a2a2a" stroke-width="0.48" />
<line x1="521.0" y1="260.5" x2="530.0" y2="258.0" stroke="#2a2a2a" stroke-width="0.48" />
<polygon points="541.8,230.5 550.8,228.1 550.8,239.1 541.8,241.7" fill="#fbeeee" stroke="#3a3a3a" stroke-width="0.5" stroke-linejoin="round" />
<line x1="546.3" y1="229.3" x2="546.3" y2="240.4" stroke="#3a3a3a" stroke-width="0.45" />
<line x1="541.8" y1="234.2" x2="550.8" y2="231.8" stroke="#3a3a3a" stroke-width="0.4" />
<line x1="541.8" y1="237.9" x2="550.8" y2="235.4" stroke="#3a3a3a" stroke-width="0.4" />
<polygon points="541.8,246.5 550.8,244.0 550.8,256.2 541.8,258.7" fill="#d5bcc8" stroke="#2a2a2a" stroke-width="0.6" stroke-linejoin="round" />
<line x1="544.8" y1="245.7" x2="544.8" y2="257.9" stroke="#2a2a2a" stroke-width="0.54" />
<line x1="547.8" y1="244.8" x2="547.8" y2="257.1" stroke="#2a2a2a" stroke-width="0.54" />
<line x1="541.8" y1="250.6" x2="550.8" y2="248.1" stroke="#2a2a2a" stroke-width="0.48" />
<line x1="541.8" y1="254.7" x2="550.8" y2="252.1" stroke="#2a2a2a" stroke-width="0.48" />
<polygon points="562.6,224.9 571.6,222.4 571.6,233.3 562.6,235.9" fill="#fbeeee" stroke="#3a3a3a" stroke-width="0.5" stroke-linejoin="round" />
<line x1="567.1" y1="223.6" x2="567.1" y2="234.6" stroke="#3a3a3a" stroke-width="0.45" />
<line x1="562.6" y1="228.5" x2="571.6" y2="226.1" stroke="#3a3a3a" stroke-width="0.4" />
<line x1="562.6" y1="232.2" x2="571.6" y2="229.7" stroke="#3a3a3a" stroke-width="0.4" />
<polygon points="562.6,240.7 571.6,238.2 571.6,250.4 562.6,252.9" fill="#d5bcc8" stroke="#2a2a2a" stroke-width="0.6" stroke-linejoin="round" />
<line x1="565.6" y1="239.8" x2="565.6" y2="252.1" stroke="#2a2a2a" stroke-width="0.54" />
<line x1="568.6" y1="239.0" x2="568.6" y2="251.2" stroke="#2a2a2a" stroke-width="0.54" />
<line x1="562.6" y1="244.8" x2="571.6" y2="242.2" stroke="#2a2a2a" stroke-width="0.48" />
<line x1="562.6" y1="248.8" x2="571.6" y2="246.3" stroke="#2a2a2a" stroke-width="0.48" />
<polygon points="580.8,219.9 590.3,217.4 590.3,228.1 580.8,230.8" fill="#fbeeee" stroke="#3a3a3a" stroke-width="0.5" stroke-linejoin="round" />
<line x1="585.5" y1="218.6" x2="585.5" y2="229.4" stroke="#3a3a3a" stroke-width="0.45" />
<line x1="580.8" y1="223.5" x2="590.3" y2="220.9" stroke="#3a3a3a" stroke-width="0.4" />
<line x1="580.8" y1="227.2" x2="590.3" y2="224.5" stroke="#3a3a3a" stroke-width="0.4" />
<polygon points="580.8,235.6 590.3,232.9 590.3,245.2 580.8,247.8" fill="#d5bcc8" stroke="#2a2a2a" stroke-width="0.6" stroke-linejoin="round" />
<line x1="584.0" y1="234.7" x2="584.0" y2="246.9" stroke="#2a2a2a" stroke-width="0.54" />
<line x1="587.1" y1="233.8" x2="587.1" y2="246.0" stroke="#2a2a2a" stroke-width="0.54" />
<line x1="580.8" y1="239.7" x2="590.3" y2="237.0" stroke="#2a2a2a" stroke-width="0.48" />
<line x1="580.8" y1="243.7" x2="590.3" y2="241.1" stroke="#2a2a2a" stroke-width="0.48" />
<polygon points="601.6,214.3 611.1,211.7 611.1,222.3 601.6,225.0" fill="#fbeeee" stroke="#3a3a3a" stroke-width="0.5" stroke-linejoin="round" />
<line x1="606.4" y1="213.0" x2="606.4" y2="223.6" stroke="#3a3a3a" stroke-width="0.45" />
<line x1="601.6" y1="217.9" x2="611.1" y2="215.3" stroke="#3a3a3a" stroke-width="0.4" />
<line x1="601.6" y1="221.4" x2="611.1" y2="218.8" stroke="#3a3a3a" stroke-width="0.4" />
<polygon points="601.6,229.8 611.1,227.1 611.1,239.3 601.6,242.0" fill="#d5bcc8" stroke="#2a2a2a" stroke-width="0.6" stroke-linejoin="round" />
<line x1="604.8" y1="228.9" x2="604.8" y2="241.1" stroke="#2a2a2a" stroke-width="0.54" />
<line x1="607.9" y1="228.0" x2="607.9" y2="240.2" stroke="#2a2a2a" stroke-width="0.54" />
<line x1="601.6" y1="233.8" x2="611.1" y2="231.2" stroke="#2a2a2a" stroke-width="0.48" />
<line x1="601.6" y1="237.9" x2="611.1" y2="235.3" stroke="#2a2a2a" stroke-width="0.48" />
<polygon points="333.5,283.4 339.5,281.9 339.5,288.2 333.5,289.7" fill="#e8eef4" stroke="#2e2e2e" stroke-width="0.5" stroke-linejoin="round" />
<line x1="336.5" y1="282.6" x2="336.5" y2="288.9" stroke="#2e2e2e" stroke-width="0.45" />
<polygon points="344.0,280.8 350.0,279.3 350.0,285.5 344.0,287.0" fill="#e8eef4" stroke="#2e2e2e" stroke-width="0.5" stroke-linejoin="round" />
<line x1="347.0" y1="280.0" x2="347.0" y2="286.3" stroke="#2e2e2e" stroke-width="0.45" />
<polygon points="333.5,296.8 339.5,295.3 339.5,299.0 333.5,300.5" fill="#e8eef4" stroke="#2e2e2e" stroke-width="0.5" stroke-linejoin="round" />
<line x1="336.5" y1="296.1" x2="336.5" y2="299.7" stroke="#2e2e2e" stroke-width="0.45" />
<polygon points="344.0,294.2 350.0,292.7 350.0,296.4 344.0,297.9" fill="#e8eef4" stroke="#2e2e2e" stroke-width="0.5" stroke-linejoin="round" />
<line x1="347.0" y1="293.4" x2="347.0" y2="297.1" stroke="#2e2e2e" stroke-width="0.45" />
<polygon points="333.5,303.5 339.5,302.1 339.5,306.1 333.5,307.6" fill="#e8eef4" stroke="#2e2e2e" stroke-width="0.5" stroke-linejoin="round" />
<line x1="336.5" y1="302.8" x2="336.5" y2="306.9" stroke="#2e2e2e" stroke-width="0.45" />
<polygon points="348.0,300.0 354.0,298.5 354.0,302.6 348.0,304.1" fill="#e8eef4" stroke="#2e2e2e" stroke-width="0.5" stroke-linejoin="round" />
<line x1="351.0" y1="299.2" x2="351.0" y2="303.3" stroke="#2e2e2e" stroke-width="0.45" />
<polygon points="358.0,290.7 364.0,289.2 364.0,292.9 358.0,294.4" fill="#e8eef4" stroke="#2e2e2e" stroke-width="0.5" stroke-linejoin="round" />
<line x1="361.0" y1="289.9" x2="361.0" y2="293.6" stroke="#2e2e2e" stroke-width="0.45" />
<polygon points="358.0,297.5 364.0,296.0 364.0,299.5 358.0,301.0" fill="#e8eef4" stroke="#2e2e2e" stroke-width="0.5" stroke-linejoin="round" />
<line x1="361.0" y1="296.7" x2="361.0" y2="300.3" stroke="#2e2e2e" stroke-width="0.45" />
<polygon points="310.8,242.4 316.2,249.5 316.2,255.6 310.8,249.0" fill="#efefef" stroke="#888" stroke-width="0.5" stroke-linejoin="round" />
<polygon points="316.2,249.5 328.6,246.8 328.6,252.8 316.2,255.6" fill="#fbfbfb" stroke="#888" stroke-width="0.5" stroke-linejoin="round" />
<polygon points="310.8,236.0 316.2,243.0 316.2,249.5 310.8,242.4" fill="#e9e9e9" stroke="#1c1c1c" stroke-width="1.0" stroke-linejoin="round" />
<polygon points="316.2,243.0 328.6,240.3 328.6,246.8 316.2,248.9" fill="#fdfdfd" stroke="#1c1c1c" stroke-width="1.0" stroke-linejoin="round" />
<polygon points="310.8,234.8 321.0,224.6 329.4,239.6 316.2,242.4" fill="#fdfdfd" stroke="#1c1c1c" stroke-width="0.9" stroke-linejoin="round" />
<line x1="321.0" y1="224.6" x2="316.2" y2="242.4" stroke="#2a2a2a" stroke-width="0.6" />
<line x1="321.0" y1="224.6" x2="332.4" y2="242.6" stroke="#1c1c1c" stroke-width="1.1" />
<line x1="332.4" y1="242.6" x2="328.8" y2="240.4" stroke="#1c1c1c" stroke-width="0.8" />
<polygon points="474.6,243.0 483.2,256.7 483.2,270.4 474.6,261.8" fill="#3d9876" />
<polygon points="474.6,261.8 483.2,270.4 483.2,290.6 475.3,280.5" fill="#a7c9e3" />
<polygon points="483.2,256.7 504.1,248.8 504.8,263.2 483.2,270.4" fill="#3d9876" />
<polygon points="483.2,270.4 504.8,263.2 505.6,283.4 483.2,290.6" fill="#a7c9e3" />
<polyline points="474.6,243.0 475.3,280.5 483.2,290.6 505.6,283.4 504.1,248.8" fill="none" stroke="#4d4d4d" stroke-width="0.5" stroke-linejoin="round" />
<line x1="483.2" y1="256.7" x2="483.2" y2="290.6" stroke="#4d4d4d" stroke-width="0.5" />
<polygon points="474.6,242.3 481.0,235.0 494.0,231.5 504.1,248.8 483.2,256.7" fill="#f7f7f7" stroke="#666" stroke-width="0.6" stroke-linejoin="round" />
<polyline points="481.0,235.0 486.0,240.2 497.6,236.0 494.0,231.5" fill="none" stroke="#888" stroke-width="0.5" stroke-linejoin="round" />
<line x1="486.0" y1="240.2" x2="483.2" y2="256.7" stroke="#888" stroke-width="0.5" />
<line x1="497.6" y1="236.0" x2="504.1" y2="248.8" stroke="#888" stroke-width="0.5" />
<polygon points="487.0,259.0 491.0,257.7 491.0,263.5 487.0,264.8" fill="#dfeee8" stroke="#2e5e50" stroke-width="0.4" stroke-linejoin="round" />
<polygon points="496.0,256.0 500.0,254.7 500.0,260.5 496.0,261.8" fill="#dfeee8" stroke="#2e5e50" stroke-width="0.4" stroke-linejoin="round" />
<polygon points="487.5,275.0 492.0,273.5 492.0,283.0 487.5,284.5" fill="#cfe0ee" stroke="#56718a" stroke-width="0.4" stroke-linejoin="round" />
<polygon points="496.0,272.3 500.5,270.8 500.5,280.0 496.0,281.5" fill="#cfe0ee" stroke="#56718a" stroke-width="0.4" stroke-linejoin="round" />
<polygon points="476.5,268.0 479.0,271.0 479.0,280.0 476.5,277.0" fill="#2a3a4a" stroke="#223" stroke-width="0.3" stroke-linejoin="round" />
<polygon points="486.0,288.5 494.5,283.5 503.6,287.2 503.6,291.5 492.5,295.5 486.0,291.8" fill="#f8f8f8" stroke="#777" stroke-width="0.5" stroke-linejoin="round" />
<polyline points="486.0,288.5 492.5,291.5 503.6,287.2" fill="none" stroke="#888" stroke-width="0.5" stroke-linejoin="round" />
<line x1="492.5" y1="291.5" x2="492.5" y2="295.5" stroke="#888" stroke-width="0.5" />
<line x1="494.5" y1="283.5" x2="492.5" y2="291.5" stroke="#aaa" stroke-width="0.4" />
<polygon points="648.0,197.0 680.5,236.0 680.5,245.0 648.0,233.0" fill="#dcdcdc" />
<polygon points="625.8,131.2 692.0,113.0 764.8,223.4 742.1,232.7 724.8,204.6 680.5,215.4" fill="#f2f2f2" stroke="#4d4d4d" stroke-width="0.6" stroke-linejoin="round" />
<polyline points="630.0,134.5 690.5,117.5 759.5,222.5" fill="none" stroke="#b5b5b5" stroke-width="0.5" stroke-linejoin="round" />
<polyline points="724.8,204.6 729.0,202.0 744.0,229.0" fill="none" stroke="#c5c5c5" stroke-width="0.5" stroke-linejoin="round" />
<polygon points="625.8,131.2 680.5,215.4 680.3,234.7 648.7,202.3 648.0,196.3 625.8,158.6" fill="#3d9876" stroke="#4d4d4d" stroke-width="0.5" stroke-linejoin="round" />
<line x1="647.8" y1="165.0" x2="647.8" y2="197.0" stroke="#2f7f63" stroke-width="0.5" />
<polygon points="650.5,174.1 654.7,180.3 654.7,184.9 650.5,179.0" fill="#2a7a5e" stroke="#235f4a" stroke-width="0.35" stroke-linejoin="round" />
<polygon points="650.5,181.6 654.7,187.3 654.7,191.9 650.5,186.5" fill="#2a7a5e" stroke="#235f4a" stroke-width="0.35" stroke-linejoin="round" />
<polygon points="650.5,189.1 654.7,194.4 654.7,199.0 650.5,194.0" fill="#2a7a5e" stroke="#235f4a" stroke-width="0.35" stroke-linejoin="round" />
<polygon points="650.5,196.6 654.7,201.4 654.7,206.0 650.5,201.5" fill="#2a7a5e" stroke="#235f4a" stroke-width="0.35" stroke-linejoin="round" />
<polygon points="656.6,183.1 660.8,189.3 660.8,193.4 656.6,187.5" fill="#2a7a5e" stroke="#235f4a" stroke-width="0.35" stroke-linejoin="round" />
<polygon points="656.6,189.9 660.8,195.6 660.8,199.8 656.6,194.4" fill="#2a7a5e" stroke="#235f4a" stroke-width="0.35" stroke-linejoin="round" />
<polygon points="656.6,196.8 660.8,202.0 660.8,206.2 656.6,201.2" fill="#2a7a5e" stroke="#235f4a" stroke-width="0.35" stroke-linejoin="round" />
<polygon points="656.6,203.6 660.8,208.4 660.8,212.5 656.6,208.1" fill="#2a7a5e" stroke="#235f4a" stroke-width="0.35" stroke-linejoin="round" />
<polygon points="662.7,192.0 666.9,198.2 666.9,201.9 662.7,196.1" fill="#2a7a5e" stroke="#235f4a" stroke-width="0.35" stroke-linejoin="round" />
<polygon points="662.7,198.2 666.9,203.9 666.9,207.6 662.7,202.2" fill="#2a7a5e" stroke="#235f4a" stroke-width="0.35" stroke-linejoin="round" />
<polygon points="662.7,204.4 666.9,209.6 666.9,213.3 662.7,208.4" fill="#2a7a5e" stroke="#235f4a" stroke-width="0.35" stroke-linejoin="round" />
<polygon points="662.7,210.6 666.9,215.3 666.9,219.1 662.7,214.6" fill="#2a7a5e" stroke="#235f4a" stroke-width="0.35" stroke-linejoin="round" />
<polygon points="668.8,201.0 673.0,207.2 673.0,210.5 668.8,204.6" fill="#2a7a5e" stroke="#235f4a" stroke-width="0.35" stroke-linejoin="round" />
<polygon points="668.8,206.5 673.0,212.2 673.0,215.5 668.8,210.1" fill="#2a7a5e" stroke="#235f4a" stroke-width="0.35" stroke-linejoin="round" />
<polygon points="668.8,212.0 673.0,217.2 673.0,220.5 668.8,215.6" fill="#2a7a5e" stroke="#235f4a" stroke-width="0.35" stroke-linejoin="round" />
<polygon points="668.8,217.5 673.0,222.3 673.0,225.6 668.8,221.1" fill="#2a7a5e" stroke="#235f4a" stroke-width="0.35" stroke-linejoin="round" />
<polygon points="674.9,210.0 679.1,216.1 679.1,219.0 674.9,213.1" fill="#2a7a5e" stroke="#235f4a" stroke-width="0.35" stroke-linejoin="round" />
<polygon points="674.9,214.8 679.1,220.5 679.1,223.3 674.9,217.9" fill="#2a7a5e" stroke="#235f4a" stroke-width="0.35" stroke-linejoin="round" />
<polygon points="674.9,219.6 679.1,224.9 679.1,227.7 674.9,222.8" fill="#2a7a5e" stroke="#235f4a" stroke-width="0.35" stroke-linejoin="round" />
<polygon points="674.9,224.5 679.1,229.2 679.1,232.1 674.9,227.6" fill="#2a7a5e" stroke="#235f4a" stroke-width="0.35" stroke-linejoin="round" />
<polygon points="648.7,202.3 654.0,207.7 654.0,220.3 648.7,214.0" fill="#f0a2a1" />
<polygon points="658.6,216.7 669.5,227.5 669.5,238.5 658.6,228.0" fill="#f0a2a1" />
<polygon points="680.5,215.4 724.8,204.6 725.9,223.0 680.5,235.0" fill="#3d9876" stroke="#4d4d4d" stroke-width="0.5" stroke-linejoin="round" />
<polygon points="724.8,204.6 742.1,232.7 742.1,250.5 725.9,223.0" fill="#3d9876" stroke="#4d4d4d" stroke-width="0.5" stroke-linejoin="round" />
<polygon points="742.1,232.7 764.8,224.5 764.8,259.5 742.1,267.3" fill="#3d9876" stroke="#4d4d4d" stroke-width="0.5" stroke-linejoin="round" />
<polygon points="742.1,267.3 764.8,259.5 764.8,269.4 742.1,275.9" fill="#f0a2a1" stroke="#4d4d4d" stroke-width="0.5" stroke-linejoin="round" />
<polygon points="722.0,170.0 730.0,167.5 733.5,172.5 733.5,180.0 725.5,182.5 722.0,177.5" fill="#f6f6f6" stroke="#666" stroke-width="0.6" stroke-linejoin="round" />
<polyline points="722.0,170.0 725.5,175.0 733.5,172.5" fill="none" stroke="#666" stroke-width="0.5" stroke-linejoin="round" />
<line x1="725.5" y1="175.0" x2="725.5" y2="182.5" stroke="#666" stroke-width="0.5" />
<polygon points="667.0,187.5 676.0,185.0 680.5,190.0 680.5,197.5 671.5,200.0 667.0,194.5" fill="#f6f6f6" stroke="#666" stroke-width="0.6" stroke-linejoin="round" />
<polyline points="667.0,187.5 671.5,192.5 680.5,190.0" fill="none" stroke="#666" stroke-width="0.5" stroke-linejoin="round" />
<line x1="671.5" y1="192.5" x2="671.5" y2="200.0" stroke="#666" stroke-width="0.5" />
<polygon points="630.6,177.6 635.6,184.0 635.6,192.0 630.6,185.5" fill="#e6e6e6" stroke="#1c1c1c" stroke-width="1.0" stroke-linejoin="round" />
<polygon points="635.6,184.0 646.5,181.9 646.5,189.5 635.6,192.0" fill="#fdfdfd" stroke="#1c1c1c" stroke-width="1.0" stroke-linejoin="round" />
<polygon points="630.6,177.6 638.5,170.8 646.5,181.6 635.6,184.0" fill="#fdfdfd" stroke="#1c1c1c" stroke-width="0.9" stroke-linejoin="round" />
<line x1="638.5" y1="170.8" x2="635.6" y2="184.0" stroke="#2a2a2a" stroke-width="0.6" />
<polygon points="303.5,342.6 318.8,368.7 319.7,381.4 303.8,352.0" fill="#3d9876" stroke="#4d4d4d" stroke-width="0.5" stroke-linejoin="round" />
<polygon points="303.8,352.0 319.7,381.4 320.6,390.0 305.3,361.5" fill="#f0a2a1" stroke="#4d4d4d" stroke-width="0.5" stroke-linejoin="round" />
<polygon points="318.8,368.7 741.4,252.0 741.4,262.5 318.8,381.2" fill="#3d9876" />
<polygon points="318.8,381.2 741.4,262.5 741.4,277.8 318.8,396.4" fill="#f0a2a1" />
<polygon points="318.8,368.7 741.4,252.0 741.4,277.8 318.8,396.4" fill="none" stroke="#4d4d4d" stroke-width="0.5" stroke-linejoin="round" />
<polyline points="318.8,381.2 741.4,262.5" fill="none" stroke="#7a8f80" stroke-width="0.4" stroke-linejoin="round" />
<polygon points="329.5,368.2 337.7,366.0 337.7,372.8 329.5,375.1" fill="#f4f6f8" stroke="#333" stroke-width="0.5" stroke-linejoin="round" />
<line x1="333.6" y1="367.1" x2="333.6" y2="373.9" stroke="#333" stroke-width="0.45" />
<polygon points="329.5,379.7 338.7,377.1 338.7,389.8 329.5,392.3" fill="#c2a8a8" stroke="#3a2e2e" stroke-width="0.55" stroke-linejoin="round" />
<line x1="332.6" y1="378.9" x2="332.6" y2="391.5" stroke="#3a2e2e" stroke-width="0.49500000000000005" />
<line x1="335.6" y1="378.0" x2="335.6" y2="390.6" stroke="#3a2e2e" stroke-width="0.49500000000000005" />
<line x1="329.5" y1="383.9" x2="338.7" y2="381.3" stroke="#3a2e2e" stroke-width="0.44000000000000006" />
<line x1="329.5" y1="388.1" x2="338.7" y2="385.5" stroke="#3a2e2e" stroke-width="0.44000000000000006" />
<polygon points="347.7,363.2 355.9,360.9 355.9,367.7 347.7,370.0" fill="#f4f6f8" stroke="#333" stroke-width="0.5" stroke-linejoin="round" />
<line x1="351.8" y1="362.1" x2="351.8" y2="368.8" stroke="#333" stroke-width="0.45" />
<polygon points="347.7,374.6 356.9,372.0 356.9,384.6 347.7,387.2" fill="#c2a8a8" stroke="#3a2e2e" stroke-width="0.55" stroke-linejoin="round" />
<line x1="350.8" y1="373.7" x2="350.8" y2="386.4" stroke="#3a2e2e" stroke-width="0.49500000000000005" />
<line x1="353.8" y1="372.9" x2="353.8" y2="385.5" stroke="#3a2e2e" stroke-width="0.49500000000000005" />
<line x1="347.7" y1="378.8" x2="356.9" y2="376.2" stroke="#3a2e2e" stroke-width="0.44000000000000006" />
<line x1="347.7" y1="383.0" x2="356.9" y2="380.4" stroke="#3a2e2e" stroke-width="0.44000000000000006" />
<polygon points="365.9,358.1 374.1,355.9 374.1,362.6 365.9,364.9" fill="#f4f6f8" stroke="#333" stroke-width="0.5" stroke-linejoin="round" />
<line x1="370.0" y1="357.0" x2="370.0" y2="363.8" stroke="#333" stroke-width="0.45" />
<polygon points="365.9,369.5 375.1,366.9 375.1,379.5 365.9,382.1" fill="#c2a8a8" stroke="#3a2e2e" stroke-width="0.55" stroke-linejoin="round" />
<line x1="369.0" y1="368.6" x2="369.0" y2="381.3" stroke="#3a2e2e" stroke-width="0.49500000000000005" />
<line x1="372.0" y1="367.8" x2="372.0" y2="380.4" stroke="#3a2e2e" stroke-width="0.49500000000000005" />
<line x1="365.9" y1="373.7" x2="375.1" y2="371.1" stroke="#3a2e2e" stroke-width="0.44000000000000006" />
<line x1="365.9" y1="377.9" x2="375.1" y2="375.3" stroke="#3a2e2e" stroke-width="0.44000000000000006" />
<polygon points="384.1,353.1 392.3,350.8 392.3,357.5 384.1,359.8" fill="#f4f6f8" stroke="#333" stroke-width="0.5" stroke-linejoin="round" />
<line x1="388.2" y1="352.0" x2="388.2" y2="358.7" stroke="#333" stroke-width="0.45" />
<polygon points="384.1,364.4 393.3,361.8 393.3,374.4 384.1,377.0" fill="#c2a8a8" stroke="#3a2e2e" stroke-width="0.55" stroke-linejoin="round" />
<line x1="387.2" y1="363.5" x2="387.2" y2="376.1" stroke="#3a2e2e" stroke-width="0.49500000000000005" />
<line x1="390.2" y1="362.7" x2="390.2" y2="375.3" stroke="#3a2e2e" stroke-width="0.49500000000000005" />
<line x1="384.1" y1="368.6" x2="393.3" y2="366.0" stroke="#3a2e2e" stroke-width="0.44000000000000006" />
<line x1="384.1" y1="372.8" x2="393.3" y2="370.2" stroke="#3a2e2e" stroke-width="0.44000000000000006" />
<polygon points="402.3,348.1 410.5,345.8 410.5,352.4 402.3,354.7" fill="#f4f6f8" stroke="#333" stroke-width="0.5" stroke-linejoin="round" />
<line x1="406.4" y1="346.9" x2="406.4" y2="353.6" stroke="#333" stroke-width="0.45" />
<polygon points="402.3,359.3 411.5,356.7 411.5,369.3 402.3,371.9" fill="#c2a8a8" stroke="#3a2e2e" stroke-width="0.55" stroke-linejoin="round" />
<line x1="405.4" y1="358.4" x2="405.4" y2="371.0" stroke="#3a2e2e" stroke-width="0.49500000000000005" />
<line x1="408.4" y1="357.5" x2="408.4" y2="370.2" stroke="#3a2e2e" stroke-width="0.49500000000000005" />
<line x1="402.3" y1="363.5" x2="411.5" y2="360.9" stroke="#3a2e2e" stroke-width="0.44000000000000006" />
<line x1="402.3" y1="367.7" x2="411.5" y2="365.1" stroke="#3a2e2e" stroke-width="0.44000000000000006" />
<polygon points="420.5,343.0 428.7,340.7 428.7,347.3 420.5,349.6" fill="#f4f6f8" stroke="#333" stroke-width="0.5" stroke-linejoin="round" />
<line x1="424.6" y1="341.9" x2="424.6" y2="348.5" stroke="#333" stroke-width="0.45" />
<polygon points="420.5,354.2 429.7,351.6 429.7,364.2 420.5,366.8" fill="#c2a8a8" stroke="#3a2e2e" stroke-width="0.55" stroke-linejoin="round" />
<line x1="423.6" y1="353.3" x2="423.6" y2="365.9" stroke="#3a2e2e" stroke-width="0.49500000000000005" />
<line x1="426.6" y1="352.4" x2="426.6" y2="365.1" stroke="#3a2e2e" stroke-width="0.49500000000000005" />
<line x1="420.5" y1="358.4" x2="429.7" y2="355.8" stroke="#3a2e2e" stroke-width="0.44000000000000006" />
<line x1="420.5" y1="362.6" x2="429.7" y2="360.0" stroke="#3a2e2e" stroke-width="0.44000000000000006" />
<polygon points="438.7,338.0 446.9,335.7 446.9,342.2 438.7,344.5" fill="#f4f6f8" stroke="#333" stroke-width="0.5" stroke-linejoin="round" />
<line x1="442.8" y1="336.8" x2="442.8" y2="343.4" stroke="#333" stroke-width="0.45" />
<polygon points="438.7,349.0 447.9,346.5 447.9,359.1 438.7,361.7" fill="#c2a8a8" stroke="#3a2e2e" stroke-width="0.55" stroke-linejoin="round" />
<line x1="441.8" y1="348.2" x2="441.8" y2="360.8" stroke="#3a2e2e" stroke-width="0.49500000000000005" />
<line x1="444.8" y1="347.3" x2="444.8" y2="360.0" stroke="#3a2e2e" stroke-width="0.49500000000000005" />
<line x1="438.7" y1="353.3" x2="447.9" y2="350.7" stroke="#3a2e2e" stroke-width="0.44000000000000006" />
<line x1="438.7" y1="357.5" x2="447.9" y2="354.9" stroke="#3a2e2e" stroke-width="0.44000000000000006" />
<polygon points="456.9,332.9 465.1,330.7 465.1,337.2 456.9,339.4" fill="#f4f6f8" stroke="#333" stroke-width="0.5" stroke-linejoin="round" />
<line x1="461.0" y1="331.8" x2="461.0" y2="338.3" stroke="#333" stroke-width="0.45" />
<polygon points="456.9,343.9 466.1,341.3 466.1,354.0 456.9,356.6" fill="#c2a8a8" stroke="#3a2e2e" stroke-width="0.55" stroke-linejoin="round" />
<line x1="460.0" y1="343.1" x2="460.0" y2="355.7" stroke="#3a2e2e" stroke-width="0.49500000000000005" />
<line x1="463.0" y1="342.2" x2="463.0" y2="354.9" stroke="#3a2e2e" stroke-width="0.49500000000000005" />
<line x1="456.9" y1="348.1" x2="466.1" y2="345.6" stroke="#3a2e2e" stroke-width="0.44000000000000006" />
<line x1="456.9" y1="352.4" x2="466.1" y2="349.8" stroke="#3a2e2e" stroke-width="0.44000000000000006" />
<polygon points="475.1,327.9 483.3,325.6 483.3,332.1 475.1,334.4" fill="#f4f6f8" stroke="#333" stroke-width="0.5" stroke-linejoin="round" />
<line x1="479.2" y1="326.8" x2="479.2" y2="333.2" stroke="#333" stroke-width="0.45" />
<polygon points="475.1,338.8 484.3,336.2 484.3,348.9 475.1,351.5" fill="#c2a8a8" stroke="#3a2e2e" stroke-width="0.55" stroke-linejoin="round" />
<line x1="478.2" y1="338.0" x2="478.2" y2="350.6" stroke="#3a2e2e" stroke-width="0.49500000000000005" />
<line x1="481.2" y1="337.1" x2="481.2" y2="349.7" stroke="#3a2e2e" stroke-width="0.49500000000000005" />
<line x1="475.1" y1="343.0" x2="484.3" y2="340.5" stroke="#3a2e2e" stroke-width="0.44000000000000006" />
<line x1="475.1" y1="347.3" x2="484.3" y2="344.7" stroke="#3a2e2e" stroke-width="0.44000000000000006" />
<polygon points="547.9,307.7 556.1,305.4 556.1,311.7 547.9,314.0" fill="#f4f6f8" stroke="#333" stroke-width="0.5" stroke-linejoin="round" />
<line x1="552.0" y1="306.6" x2="552.0" y2="312.8" stroke="#333" stroke-width="0.45" />
<polygon points="547.9,318.4 557.1,315.8 557.1,328.5 547.9,331.0" fill="#c2a8a8" stroke="#3a2e2e" stroke-width="0.55" stroke-linejoin="round" />
<line x1="551.0" y1="317.5" x2="551.0" y2="330.2" stroke="#3a2e2e" stroke-width="0.49500000000000005" />
<line x1="554.0" y1="316.7" x2="554.0" y2="329.3" stroke="#3a2e2e" stroke-width="0.49500000000000005" />
<line x1="547.9" y1="322.6" x2="557.1" y2="320.0" stroke="#3a2e2e" stroke-width="0.44000000000000006" />
<line x1="547.9" y1="326.8" x2="557.1" y2="324.2" stroke="#3a2e2e" stroke-width="0.44000000000000006" />
<polygon points="566.1,302.7 574.3,300.4 574.3,306.6 566.1,308.9" fill="#f4f6f8" stroke="#333" stroke-width="0.5" stroke-linejoin="round" />
<line x1="570.2" y1="301.5" x2="570.2" y2="307.8" stroke="#333" stroke-width="0.45" />
<polygon points="566.1,313.3 575.3,310.7 575.3,323.3 566.1,325.9" fill="#c2a8a8" stroke="#3a2e2e" stroke-width="0.55" stroke-linejoin="round" />
<line x1="569.2" y1="312.4" x2="569.2" y2="325.1" stroke="#3a2e2e" stroke-width="0.49500000000000005" />
<line x1="572.2" y1="311.5" x2="572.2" y2="324.2" stroke="#3a2e2e" stroke-width="0.49500000000000005" />
<line x1="566.1" y1="317.5" x2="575.3" y2="314.9" stroke="#3a2e2e" stroke-width="0.44000000000000006" />
<line x1="566.1" y1="321.7" x2="575.3" y2="319.1" stroke="#3a2e2e" stroke-width="0.44000000000000006" />
<polygon points="584.3,297.6 592.5,295.4 592.5,301.5 584.3,303.8" fill="#f4f6f8" stroke="#333" stroke-width="0.5" stroke-linejoin="round" />
<line x1="588.4" y1="296.5" x2="588.4" y2="302.7" stroke="#333" stroke-width="0.45" />
<polygon points="584.3,308.2 593.5,305.6 593.5,318.2 584.3,320.8" fill="#c2a8a8" stroke="#3a2e2e" stroke-width="0.55" stroke-linejoin="round" />
<line x1="587.4" y1="307.3" x2="587.4" y2="320.0" stroke="#3a2e2e" stroke-width="0.49500000000000005" />
<line x1="590.4" y1="306.4" x2="590.4" y2="319.1" stroke="#3a2e2e" stroke-width="0.49500000000000005" />
<line x1="584.3" y1="312.4" x2="593.5" y2="309.8" stroke="#3a2e2e" stroke-width="0.44000000000000006" />
<line x1="584.3" y1="316.6" x2="593.5" y2="314.0" stroke="#3a2e2e" stroke-width="0.44000000000000006" />
<polygon points="602.5,292.6 610.7,290.3 610.7,296.4 602.5,298.7" fill="#f4f6f8" stroke="#333" stroke-width="0.5" stroke-linejoin="round" />
<line x1="606.6" y1="291.5" x2="606.6" y2="297.6" stroke="#333" stroke-width="0.45" />
<polygon points="602.5,303.0 611.7,300.5 611.7,313.1 602.5,315.7" fill="#c2a8a8" stroke="#3a2e2e" stroke-width="0.55" stroke-linejoin="round" />
<line x1="605.6" y1="302.2" x2="605.6" y2="314.9" stroke="#3a2e2e" stroke-width="0.49500000000000005" />
<line x1="608.6" y1="301.3" x2="608.6" y2="314.0" stroke="#3a2e2e" stroke-width="0.49500000000000005" />
<line x1="602.5" y1="307.3" x2="611.7" y2="304.7" stroke="#3a2e2e" stroke-width="0.44000000000000006" />
<line x1="602.5" y1="311.5" x2="611.7" y2="308.9" stroke="#3a2e2e" stroke-width="0.44000000000000006" />
<polygon points="620.7,287.5 628.9,285.3 628.9,291.3 620.7,293.6" fill="#f4f6f8" stroke="#333" stroke-width="0.5" stroke-linejoin="round" />
<line x1="624.8" y1="286.4" x2="624.8" y2="292.5" stroke="#333" stroke-width="0.45" />
<polygon points="620.7,297.9 629.9,295.3 629.9,308.0 620.7,310.6" fill="#c2a8a8" stroke="#3a2e2e" stroke-width="0.55" stroke-linejoin="round" />
<line x1="623.8" y1="297.1" x2="623.8" y2="309.7" stroke="#3a2e2e" stroke-width="0.49500000000000005" />
<line x1="626.8" y1="296.2" x2="626.8" y2="308.9" stroke="#3a2e2e" stroke-width="0.49500000000000005" />
<line x1="620.7" y1="302.2" x2="629.9" y2="299.6" stroke="#3a2e2e" stroke-width="0.44000000000000006" />
<line x1="620.7" y1="306.4" x2="629.9" y2="303.8" stroke="#3a2e2e" stroke-width="0.44000000000000006" />
<polygon points="638.9,282.5 647.1,280.2 647.1,286.3 638.9,288.5" fill="#f4f6f8" stroke="#333" stroke-width="0.5" stroke-linejoin="round" />
<line x1="643.0" y1="281.4" x2="643.0" y2="287.4" stroke="#333" stroke-width="0.45" />
<polygon points="638.9,292.8 648.1,290.2 648.1,302.9 638.9,305.5" fill="#c2a8a8" stroke="#3a2e2e" stroke-width="0.55" stroke-linejoin="round" />
<line x1="642.0" y1="292.0" x2="642.0" y2="304.6" stroke="#3a2e2e" stroke-width="0.49500000000000005" />
<line x1="645.0" y1="291.1" x2="645.0" y2="303.8" stroke="#3a2e2e" stroke-width="0.49500000000000005" />
<line x1="638.9" y1="297.0" x2="648.1" y2="294.5" stroke="#3a2e2e" stroke-width="0.44000000000000006" />
<line x1="638.9" y1="301.3" x2="648.1" y2="298.7" stroke="#3a2e2e" stroke-width="0.44000000000000006" />
<polygon points="675.3,272.4 683.5,270.1 683.5,276.1 675.3,278.4" fill="#f4f6f8" stroke="#333" stroke-width="0.5" stroke-linejoin="round" />
<line x1="679.4" y1="271.3" x2="679.4" y2="277.2" stroke="#333" stroke-width="0.45" />
<polygon points="677.3,282.0 681.8,280.8 681.8,289.9 677.3,291.2" fill="#f4e4e4" stroke="#333" stroke-width="0.5" stroke-linejoin="round" />
<line x1="677.3" y1="286.6" x2="681.8" y2="285.4" stroke="#333" stroke-width="0.4" />
<polygon points="693.5,267.4 701.7,265.1 701.7,271.0 693.5,273.3" fill="#f4f6f8" stroke="#333" stroke-width="0.5" stroke-linejoin="round" />
<line x1="697.6" y1="266.2" x2="697.6" y2="272.1" stroke="#333" stroke-width="0.45" />
<polygon points="695.5,276.9 700.0,275.7 700.0,284.8 695.5,286.1" fill="#f4e4e4" stroke="#333" stroke-width="0.5" stroke-linejoin="round" />
<line x1="695.5" y1="281.5" x2="700.0" y2="280.2" stroke="#333" stroke-width="0.4" />
<polygon points="711.7,262.3 719.9,260.1 719.9,265.9 711.7,268.2" fill="#f4f6f8" stroke="#333" stroke-width="0.5" stroke-linejoin="round" />
<line x1="715.8" y1="261.2" x2="715.8" y2="267.0" stroke="#333" stroke-width="0.45" />
<polygon points="713.7,271.8 718.2,270.5 718.2,279.7 713.7,281.0" fill="#f4e4e4" stroke="#333" stroke-width="0.5" stroke-linejoin="round" />
<line x1="713.7" y1="276.4" x2="718.2" y2="275.1" stroke="#333" stroke-width="0.4" />
<polygon points="729.9,257.3 738.1,255.0 738.1,260.8 729.9,263.1" fill="#f4f6f8" stroke="#333" stroke-width="0.5" stroke-linejoin="round" />
<line x1="734.0" y1="256.2" x2="734.0" y2="261.9" stroke="#333" stroke-width="0.45" />
<polygon points="731.9,266.7 736.4,265.4 736.4,274.6 731.9,275.9" fill="#f4e4e4" stroke="#333" stroke-width="0.5" stroke-linejoin="round" />
<line x1="731.9" y1="271.3" x2="736.4" y2="270.0" stroke="#333" stroke-width="0.4" />
<line x1="393.5" y1="348.1" x2="393.5" y2="375.4" stroke="#f4f4f4" stroke-width="1.2" />
<line x1="625.8" y1="283.9" x2="625.8" y2="310.2" stroke="#f4f4f4" stroke-width="1.2" />
<polygon points="303.5,342.6 725.9,223.0 741.4,252.0 318.8,368.7" fill="#984e4a" stroke="#4d4d4d" stroke-width="0.6" stroke-linejoin="round" />
<polygon points="346.0,320.5 358.0,317.1 362.0,322.3 362.0,327.3 350.0,330.7 346.0,325.5" fill="#fafafa" stroke="#666" stroke-width="0.6" stroke-linejoin="round" />
<polyline points="346.0,320.5 350.0,325.7 362.0,322.3" fill="none" stroke="#666" stroke-width="0.5" stroke-linejoin="round" />
<line x1="350.0" y1="325.7" x2="350.0" y2="330.7" stroke="#666" stroke-width="0.5" />
<polygon points="628.5,245.0 640.5,241.6 644.5,246.8 644.5,251.8 632.5,255.2 628.5,250.0" fill="#fafafa" stroke="#666" stroke-width="0.6" stroke-linejoin="round" />
<polyline points="628.5,245.0 632.5,250.2 644.5,246.8" fill="none" stroke="#666" stroke-width="0.5" stroke-linejoin="round" />
<line x1="632.5" y1="250.2" x2="632.5" y2="255.2" stroke="#666" stroke-width="0.5" />
<polygon points="362.0,357.3 377.0,353.1 377.0,346.1 369.5,343.2 362.0,350.3" fill="#3d9876" stroke="#4d4d4d" stroke-width="0.5" stroke-linejoin="round" />
<polygon points="362.0,350.3 369.5,343.2 377.0,346.1 373.0,340.1 365.5,338.2 359.0,346.3" fill="#fafafa" stroke="#666" stroke-width="0.5" stroke-linejoin="round" />
<polygon points="366.5,349.5 372.5,347.9 372.5,352.4 366.5,354.0" fill="#fff" stroke="#2e2e2e" stroke-width="0.5" stroke-linejoin="round" />
<polygon points="643.0,279.7 658.0,275.5 658.0,268.5 650.5,265.6 643.0,272.7" fill="#3d9876" stroke="#4d4d4d" stroke-width="0.5" stroke-linejoin="round" />
<polygon points="643.0,272.7 650.5,265.6 658.0,268.5 654.0,262.5 646.5,260.6 640.0,268.7" fill="#fafafa" stroke="#666" stroke-width="0.5" stroke-linejoin="round" />
<polygon points="647.5,271.9 653.5,270.3 653.5,274.8 647.5,276.4" fill="#fff" stroke="#2e2e2e" stroke-width="0.5" stroke-linejoin="round" />
<polygon points="501.6,318.0 511.0,329.0 511.0,343.3 501.6,334.0" fill="#3d9876" stroke="#4d4d4d" stroke-width="0.4" stroke-linejoin="round" />
<polygon points="501.6,334.0 511.0,343.3 511.0,357.7 501.6,345.5" fill="#f0a2a1" stroke="#4d4d4d" stroke-width="0.4" stroke-linejoin="round" />
<polygon points="511.0,329.0 519.6,322.5 529.7,324.0 529.7,339.0 511.0,343.3" fill="#3d9876" stroke="#4d4d4d" stroke-width="0.4" stroke-linejoin="round" />
<polygon points="511.0,343.3 529.7,339.0 529.7,352.0 511.0,357.7" fill="#f0a2a1" stroke="#4d4d4d" stroke-width="0.4" stroke-linejoin="round" />
<polygon points="501.6,317.4 511.0,310.2 519.6,322.5 510.3,328.9" fill="#fafafa" stroke="#777" stroke-width="0.5" stroke-linejoin="round" />
<polygon points="511.0,310.2 523.2,311.6 530.5,324.5 519.6,322.5" fill="#f0f0f0" stroke="#777" stroke-width="0.5" stroke-linejoin="round" />
<line x1="504.5" y1="315.2" x2="513.5" y2="327.0" stroke="#bbb" stroke-width="0.5" />
<line x1="507.5" y1="313.0" x2="516.5" y2="325.0" stroke="#bbb" stroke-width="0.5" />
<line x1="515.0" y1="310.7" x2="523.0" y2="323.0" stroke="#bbb" stroke-width="0.5" />
<line x1="519.0" y1="311.2" x2="527.0" y2="323.8" stroke="#bbb" stroke-width="0.5" />
<line x1="511.3" y1="329.5" x2="511.3" y2="357.5" stroke="#f6f6f6" stroke-width="1.1" />
<line x1="529.5" y1="324.5" x2="529.5" y2="351.5" stroke="#f6f6f6" stroke-width="1.1" />
<polygon points="515.5,346.2 525.5,343.8 525.5,353.5 515.5,356.0" fill="#f3cfd0" stroke="#333" stroke-width="0.5" stroke-linejoin="round" />
<line x1="520.5" y1="345.0" x2="520.5" y2="354.7" stroke="#333" stroke-width="0.5" />
<polygon points="517.0,335.5 523.0,334.0 523.0,338.5 517.0,340.0" fill="#fff" stroke="#333" stroke-width="0.4" stroke-linejoin="round" />
<circle cx="520.5" cy="329" r="1" fill="#fff" stroke="#333" stroke-width="0.3"/>
<polygon points="604.1,375.1 770.0,327.3 770.0,349.4 612.3,392.5" fill="#d3b9d4" />
<polygon points="612.3,390.6 623.0,387.7 660.0,378.7 770.0,349.4 770.0,358.4 660.0,385.5 623.0,395.0 612.3,398.0" fill="#b97598" />
<path d="M488,382.3 L488,408.5 C492,424 508,434 527.7,435.8 C540,436.5 556,432.5 570,427 L612.3,416.6 L612.3,389.5 L560,396 Z" fill="#d3b9d4"/>
<path d="M488.3,400 C489.5,407 493,412 497,415.7 C505,421.5 516,424.5 527.7,425 C540,425 556,422 570,417.5 L612.3,407.6 L612.3,416.6 L570,427 C556,432.5 540,436.5 527.7,435.8 C508,434 492,424 488,408.5 Z" fill="#b97598"/>
<path d="M535.8,342.7 L770,277.5 L770,327.3 L604.1,375.1 L612.3,389.5 L570,400.4 C556,405 541,409 527.7,409.4 C516,409.5 505,406.5 497,401.3 C492,397 488.5,390 488,382.3 C488.5,377 490,374 493.4,370.6 C497,367 501,364 506,361.6 C511,359.5 517,358 524,357 L537.6,356.2 Z" fill="#cbb3cb" stroke="#3c3040" stroke-width="0.7" stroke-linejoin="round"/>
<ellipse cx="533" cy="382.3" rx="18" ry="7.8" fill="#fdfdfd" stroke="#4a3a4a" stroke-width="0.6"/>
<path d="M537.6,363.4 C545,366 551,372 551,381 C549,376 543,373.5 537.6,373 Z" fill="#d3b9d4" stroke="#4a3a4a" stroke-width="0.5"/>
<path d="M516.5,385 C522,389.5 543,389.5 549.5,385" fill="none" stroke="#b9a0bb" stroke-width="0.8"/>
<line x1="537.6" y1="356.2" x2="537.6" y2="373.0" stroke="#3c3040" stroke-width="0.7" />
<path d="M488,382.3 C488.5,390 492,397 497,401.3 C505,406.5 516,409.5 527.7,409.4 C541,409 556,405 570,400.4 L612.3,389.5" fill="none" stroke="#4a3350" stroke-width="0.9"/>
<path d="M488.2,390 C489.5,397 493,404 497,408 C505,413.5 516,416.5 527.7,416.6 C541,416.5 556,412.5 570,408.4 L612.3,398" fill="none" stroke="#4a3350" stroke-width="0.7"/>
<line x1="488.2" y1="382.4" x2="488.2" y2="401.4" stroke="#4a3350" stroke-width="0.9" />
<line x1="497.0" y1="400.3" x2="497.0" y2="423.3" stroke="#4a3350" stroke-width="0.9" />
<line x1="506.0" y1="404.8" x2="506.0" y2="431.8" stroke="#4a3350" stroke-width="0.9" />
<line x1="527.7" y1="408.4" x2="527.7" y2="435.4" stroke="#4a3350" stroke-width="0.9" />
<line x1="549.3" y1="405.7" x2="549.3" y2="432.7" stroke="#4a3350" stroke-width="0.9" />
<line x1="570.0" y1="399.4" x2="570.0" y2="426.4" stroke="#4a3350" stroke-width="0.9" />
<line x1="591.0" y1="394.0" x2="591.0" y2="421.0" stroke="#4a3350" stroke-width="0.9" />
<line x1="612.3" y1="388.5" x2="612.3" y2="415.5" stroke="#4a3350" stroke-width="0.9" />
<line x1="497.0" y1="356.0" x2="497.0" y2="365.0" stroke="#4a3350" stroke-width="0.9" />
<line x1="526.0" y1="365.0" x2="526.0" y2="374.0" stroke="#4a3350" stroke-width="0.9" />
<line x1="537.6" y1="345.0" x2="537.6" y2="354.0" stroke="#4a3350" stroke-width="0.9" />
<line x1="604.1" y1="375.1" x2="770.0" y2="327.3" stroke="#4a3350" stroke-width="1.0" />
<line x1="607.5" y1="382.8" x2="770.0" y2="336.3" stroke="#4a3350" stroke-width="0.8" />
<polyline points="604.1,375.1 612.3,389.5 612.3,416.6" fill="none" stroke="#4a3350" stroke-width="0.8" stroke-linejoin="round" />
<line x1="623.2" y1="368.6" x2="623.2" y2="395.0" stroke="#4a3350" stroke-width="1.0" />
<line x1="644.0" y1="362.6" x2="644.0" y2="389.7" stroke="#4a3350" stroke-width="1.0" />
<line x1="664.8" y1="356.6" x2="664.8" y2="384.5" stroke="#4a3350" stroke-width="1.0" />
<line x1="684.3" y1="351.0" x2="684.3" y2="379.6" stroke="#4a3350" stroke-width="1.0" />
<line x1="705.0" y1="345.0" x2="705.0" y2="374.4" stroke="#4a3350" stroke-width="1.0" />
<line x1="724.5" y1="339.4" x2="724.5" y2="369.5" stroke="#4a3350" stroke-width="1.0" />
<line x1="744.0" y1="333.8" x2="744.0" y2="364.6" stroke="#4a3350" stroke-width="1.0" />
<line x1="764.8" y1="327.8" x2="764.8" y2="359.4" stroke="#4a3350" stroke-width="1.0" />
<polygon points="617.5,321.0 637.5,315.5 645.0,327.0 625.0,333.0" fill="#fdfdfd" stroke="#222" stroke-width="0.9" stroke-linejoin="round" />
<line x1="627.0" y1="318.5" x2="634.0" y2="330.5" stroke="#222" stroke-width="0.9" />
<path d="M331.5,392.6 C340,388.5 354,383.8 367,383.8 C388,384.2 403,394 410.8,407.5 L353.2,422 Z" fill="#df4a46"/>
<path d="M331,394 C346,388 372,387 392,398" fill="none" stroke="#c83e3e" stroke-width="0.4"/>
<line x1="340.0" y1="398.0" x2="360.0" y2="420.0" stroke="#c94545" stroke-width="0.4" />
<line x1="352.5" y1="405.0" x2="395.0" y2="395.0" stroke="#d86a6a" stroke-width="0.4" />
<polygon points="308.0,376.0 320.0,397.5 327.0,396.5 327.0,391.5 352.5,423.5 352.8,430.0 346.0,424.0 322.0,404.0 318.5,398.0 306.0,380.0" fill="#fbfbfb" stroke="#8a8a8a" stroke-width="0.5" stroke-linejoin="round" />
<polygon points="352.5,423.0 488.0,392.5 488.0,401.0 353.0,430.5" fill="#fbfbfb" stroke="#8a8a8a" stroke-width="0.5" stroke-linejoin="round" />
<line x1="352.7" y1="425.8" x2="488.0" y2="395.2" stroke="#a9a9a9" stroke-width="0.45" />
<polyline points="404.0,396.0 404.0,402.0 411.0,400.5 411.0,408.0" fill="none" stroke="#999" stroke-width="0.5" stroke-linejoin="round" />
<polygon points="115.0,398.0 139.3,392.5 141.0,393.4 140.0,440.3 126.7,443.9 81.6,451.0 80.7,448.4 87.0,443.0 91.5,444.8 97.0,441.2 102.3,442.0 108.6,438.5 114.0,439.4 116.8,431.3 113.8,426.0 116.3,421.0 113.5,416.0 116.0,411.0 113.5,406.0 115.5,402.0" fill="#eea84e" stroke="#a5671a" stroke-width="0.5" stroke-linejoin="round" />
<line x1="116.8" y1="431.3" x2="140.5" y2="424.5" stroke="#a5671a" stroke-width="0.4" />
<line x1="139.3" y1="392.5" x2="138.5" y2="440.5" stroke="#7a4c10" stroke-width="0.7" />
<polygon points="102.3,407.0 107.7,405.7 107.7,423.0 102.3,424.3" fill="#f6f6f6" stroke="#777" stroke-width="0.5" stroke-linejoin="round" />
<polyline points="107.7,406.0 112.0,405.0 112.0,437.0 107.0,438.5 107.0,424.0" fill="none" stroke="#888" stroke-width="0.5" stroke-linejoin="round" />
<polygon points="160.0,382.3 180.6,377.2 183.3,381.4 183.3,390.4 163.5,394.9 160.8,391.3" fill="#eea84e" stroke="#a5671a" stroke-width="0.5" stroke-linejoin="round" />
<polyline points="160.0,382.3 163.0,386.0 183.3,381.4" fill="none" stroke="#a5671a" stroke-width="0.5" stroke-linejoin="round" />
<line x1="163.0" y1="386.0" x2="163.5" y2="394.9" stroke="#a5671a" stroke-width="0.5" />
<polygon points="236.0,368.0 254.5,350.0 266.0,352.0 291.5,372.5 287.0,376.0 262.0,383.0 228.0,388.5 222.0,375.0" fill="#eea84e" />
<polygon points="271.0,361.8 279.0,359.0 284.5,361.0 284.5,366.4 289.0,367.3 291.8,372.7 287.3,375.5 271.0,380.0" fill="#eea84e" stroke="#a5671a" stroke-width="0.5" stroke-linejoin="round" />
<polygon points="271.0,361.8 279.0,359.0 284.5,361.0 277.0,364.0" fill="#f3b45e" stroke="#a5671a" stroke-width="0.4" stroke-linejoin="round" />
<line x1="277.0" y1="364.0" x2="277.0" y2="378.5" stroke="#a5671a" stroke-width="0.4" />
<polyline points="277.0,369.5 284.5,366.4" fill="none" stroke="#a5671a" stroke-width="0.4" stroke-linejoin="round" />
<polyline points="280.0,371.0 289.0,367.3" fill="none" stroke="#a5671a" stroke-width="0.4" stroke-linejoin="round" />
<line x1="280.0" y1="371.0" x2="280.0" y2="377.5" stroke="#a5671a" stroke-width="0.4" />
<polygon points="265.5,352.7 271.0,353.6 271.5,361.0 270.0,381.0 263.6,381.8" fill="#eea84e" stroke="#a5671a" stroke-width="0.5" stroke-linejoin="round" />
<polygon points="265.5,352.7 271.0,353.6 269.5,356.0 264.5,355.2" fill="#f3b45e" stroke="#a5671a" stroke-width="0.4" stroke-linejoin="round" />
<polygon points="254.5,348.2 256.4,345.5 265.5,346.4 265.5,353.6 262.7,382.7 253.6,382.7" fill="#eea84e" stroke="#a5671a" stroke-width="0.5" stroke-linejoin="round" />
<polygon points="263.5,349.2 265.5,346.4 265.5,353.6 262.7,382.7 261.5,382.7" fill="#e39a3a" stroke="#a5671a" stroke-width="0.4" stroke-linejoin="round" />
<polygon points="254.5,348.2 256.4,345.5 265.5,346.4 263.5,349.2" fill="#f3b45e" stroke="#a5671a" stroke-width="0.4" stroke-linejoin="round" />
<polygon points="237.3,353.6 242.7,348.2 250.0,350.0 250.5,357.3 246.0,383.0 236.0,383.0 233.0,368.0" fill="#eea84e" stroke="#a5671a" stroke-width="0.5" stroke-linejoin="round" />
<polygon points="245.0,355.5 250.0,350.0 250.5,357.3 246.0,383.0 241.0,383.0" fill="#e39a3a" stroke="#a5671a" stroke-width="0.4" stroke-linejoin="round" />
<polygon points="237.3,353.6 242.7,348.2 250.0,350.0 245.0,355.5" fill="#f3b45e" stroke="#a5671a" stroke-width="0.4" stroke-linejoin="round" />
<polygon points="222.0,362.5 236.4,365.5 244.0,382.0 228.0,388.5 219.0,384.0" fill="#eea84e" stroke="#a5671a" stroke-width="0.5" stroke-linejoin="round" />
<polygon points="210.0,370.0 215.5,359.0 223.6,360.0 224.0,372.0 219.5,387.0 209.0,384.0" fill="#eea84e" stroke="#a5671a" stroke-width="0.5" stroke-linejoin="round" />
<polygon points="218.5,370.5 223.6,360.0 224.0,372.0 219.5,387.0 216.5,386.5" fill="#e39a3a" stroke="#a5671a" stroke-width="0.4" stroke-linejoin="round" />
<polygon points="210.0,370.0 215.5,359.0 223.6,360.0 218.5,370.5" fill="#f3b45e" stroke="#a5671a" stroke-width="0.4" stroke-linejoin="round" />
<polygon points="189.0,378.2 197.3,371.8 217.3,376.4 217.3,386.0 196.4,384.2 189.0,383.0" fill="#eea84e" stroke="#a5671a" stroke-width="0.5" stroke-linejoin="round" />
<polygon points="189.0,378.2 197.3,371.8 217.3,376.4 209.0,381.5" fill="#f3b45e" stroke="#a5671a" stroke-width="0.4" stroke-linejoin="round" />
<line x1="209.0" y1="381.5" x2="209.0" y2="385.3" stroke="#a5671a" stroke-width="0.4" />
<polygon points="227.5,369.5 230.0,366.8 244.5,375.2 243.3,379.0" fill="#3d3d3d" stroke="#222" stroke-width="0.4" stroke-linejoin="round" />
<line x1="229.0" y1="368.5" x2="244.0" y2="377.0" stroke="#888" stroke-width="0.3" />
<polygon points="183.3,382.3 231.0,392.0 308.3,375.9 309.0,382.0 231.0,400.0 183.3,390.6" fill="#fbfbfb" stroke="#8a8a8a" stroke-width="0.5" stroke-linejoin="round" />
<line x1="231.0" y1="392.0" x2="231.0" y2="400.0" stroke="#8a8a8a" stroke-width="0.5" />
<polygon points="226.0,388.0 231.0,392.0 308.3,375.9 302.0,374.5" fill="#f1f1f1" stroke="#b5b5b5" stroke-width="0.4" stroke-linejoin="round" />
<line x1="296.0" y1="352.5" x2="297.2" y2="362.5" stroke="#3a3a3a" stroke-width="0.8" />
<line x1="296.0" y1="352.5" x2="290.0" y2="350.0" stroke="#1e1e1e" stroke-width="1.1" />
<line x1="296.0" y1="352.5" x2="290.5" y2="354.0" stroke="#1e1e1e" stroke-width="1.1" />
<line x1="296.0" y1="352.5" x2="301.0" y2="349.5" stroke="#1e1e1e" stroke-width="1.1" />
<line x1="296.0" y1="352.5" x2="302.0" y2="353.3" stroke="#1e1e1e" stroke-width="1.1" />
<line x1="296.0" y1="352.5" x2="296.5" y2="348.0" stroke="#1e1e1e" stroke-width="1.1" />
<line x1="296.0" y1="352.5" x2="293.5" y2="356.0" stroke="#1e1e1e" stroke-width="1.1" />
<line x1="296.0" y1="352.5" x2="299.0" y2="355.5" stroke="#1e1e1e" stroke-width="1.1" />
<line x1="296.0" y1="352.5" x2="292.5" y2="348.5" stroke="#1e1e1e" stroke-width="1.1" />
<line x1="296.0" y1="352.5" x2="299.5" y2="348.3" stroke="#1e1e1e" stroke-width="1.1" />
<line x1="301.0" y1="359.5" x2="302.2" y2="369.5" stroke="#3a3a3a" stroke-width="0.8" />
<line x1="301.0" y1="359.5" x2="295.0" y2="357.0" stroke="#1e1e1e" stroke-width="1.1" />
<line x1="301.0" y1="359.5" x2="295.5" y2="361.0" stroke="#1e1e1e" stroke-width="1.1" />
<line x1="301.0" y1="359.5" x2="306.0" y2="356.5" stroke="#1e1e1e" stroke-width="1.1" />
<line x1="301.0" y1="359.5" x2="307.0" y2="360.3" stroke="#1e1e1e" stroke-width="1.1" />
<line x1="301.0" y1="359.5" x2="301.5" y2="355.0" stroke="#1e1e1e" stroke-width="1.1" />
<line x1="301.0" y1="359.5" x2="298.5" y2="363.0" stroke="#1e1e1e" stroke-width="1.1" />
<line x1="301.0" y1="359.5" x2="304.0" y2="362.5" stroke="#1e1e1e" stroke-width="1.1" />
<line x1="301.0" y1="359.5" x2="297.5" y2="355.5" stroke="#1e1e1e" stroke-width="1.1" />
<line x1="301.0" y1="359.5" x2="304.5" y2="355.3" stroke="#1e1e1e" stroke-width="1.1" />
<polygon points="53.5,453.0 62.0,459.5 139.5,441.5 140.5,441.2 140.8,393.5 143.8,392.5 143.8,388.0 152.0,388.0 152.0,396.0 143.5,396.0 143.0,446.0 62.5,466.0 52.5,458.0" fill="#fbfbfb" stroke="#8a8a8a" stroke-width="0.5" stroke-linejoin="round" />
<line x1="62.0" y1="459.5" x2="62.5" y2="466.0" stroke="#8a8a8a" stroke-width="0.5" />
<polyline points="84.3,461.0 85.0,466.0 128.5,455.0 128.5,450.5" fill="none" stroke="#9a9a9a" stroke-width="0.45" stroke-linejoin="round" />
<polyline points="143.8,392.5 152.0,392.5" fill="none" stroke="#8a8a8a" stroke-width="0.4" stroke-linejoin="round" />
<line x1="205.0" y1="117.0" x2="158.2" y2="321.0" stroke="#4ba487" stroke-width="1.9" />
<line x1="42.0" y1="241.0" x2="101.0" y2="358.0" stroke="#f3a596" stroke-width="1.5" />
<line x1="315.5" y1="196.0" x2="290.3" y2="258.6" stroke="#d9ca52" stroke-width="1.9" />
<line x1="560.8" y1="144.0" x2="535.5" y2="245.5" stroke="#97c1dd" stroke-width="1.8" />
<line x1="770.0" y1="152.3" x2="729.0" y2="222.5" stroke="#a04a47" stroke-width="1.8" />
<line x1="254.0" y1="386.0" x2="215.0" y2="504.7" stroke="#f4a94a" stroke-width="2.0" />
<line x1="126.7" y1="443.9" x2="164.8" y2="504.7" stroke="#f4a94a" stroke-width="2.0" />
<line x1="361.6" y1="420.6" x2="383.5" y2="455.0" stroke="#dc4d58" stroke-width="1.7" />
<line x1="547.8" y1="435.0" x2="636.0" y2="487.5" stroke="#b47a98" stroke-width="1.8" />
<line x1="612.9" y1="389.6" x2="770.0" y2="434.0" stroke="#d3bcd8" stroke-width="1.8" />
<line x1="11.4" y1="468.0" x2="36.0" y2="446.6" stroke="#d2d2d2" stroke-width="2.2" />
<text x="204.8" y="98.2" text-anchor="end" font-size="12.9" textLength="154.3" lengthAdjust="spacingAndGlyphs">Коворкинг, офисная часть</text>
<text x="204.8" y="114.6" text-anchor="end" font-size="12.9" textLength="53.1" lengthAdjust="spacingAndGlyphs"><tspan font-weight="bold">2000</tspan> м2</text>
<text x="329" y="175.2" text-anchor="end" font-size="12.9" textLength="111.5" lengthAdjust="spacingAndGlyphs">Детская площадка</text>
<text x="329" y="190.2" text-anchor="end" font-size="12.9" textLength="43.3" lengthAdjust="spacingAndGlyphs"><tspan font-weight="bold">300</tspan> м2</text>
<text x="561.5" y="125.7" text-anchor="end" font-size="12.9" textLength="133.3" lengthAdjust="spacingAndGlyphs">Интерактивный музей</text>
<text x="559.8" y="141.6" text-anchor="end" font-size="12.9" textLength="50.5" lengthAdjust="spacingAndGlyphs"><tspan font-weight="bold">2000</tspan> м2</text>
<text x="41.2" y="223.6" text-anchor="end" font-size="12.9">Торговая зона</text>
<text x="41.2" y="239.4" text-anchor="end" font-size="12.9" textLength="49" lengthAdjust="spacingAndGlyphs"><tspan font-weight="bold">1000</tspan> м2</text>
<text x="11.4" y="477.8" text-anchor="end" font-size="12.9">Двор</text>
<text x="11.4" y="493.5" text-anchor="end" font-size="12.9">1 Га</text>
<text x="227.9" y="521" text-anchor="end" font-size="12.9" textLength="118" lengthAdjust="spacingAndGlyphs">Контейнерный парк</text>
<text x="226.8" y="537" text-anchor="end" font-size="12.9" textLength="49" lengthAdjust="spacingAndGlyphs"><tspan font-weight="bold">1000</tspan> м2</text>
<text x="438.4" y="465.7" text-anchor="end" font-size="12.9" textLength="134.8" lengthAdjust="spacingAndGlyphs">Спортивная площадка</text>
<text x="437.7" y="480.9" text-anchor="end" font-size="12.9" textLength="43.7" lengthAdjust="spacingAndGlyphs"><tspan font-weight="bold">300</tspan> м2</text>
<text x="639.6" y="499.2" text-anchor="end" font-size="12.9" textLength="133.2" lengthAdjust="spacingAndGlyphs">Концертная площадка</text>
<text x="639.1" y="514.4" text-anchor="end" font-size="12.9" textLength="48.6" lengthAdjust="spacingAndGlyphs"><tspan font-weight="bold">1000</tspan> м2</text>
<text x="703.4" y="452.5" text-anchor="start" font-size="12.9">Крытый паркинг</text>
<text x="747.8" y="467.9" text-anchor="start" font-size="12.9" textLength="52" lengthAdjust="spacingAndGlyphs"><tspan font-weight="bold">5000</tspan> м2</text>
</svg>
</body></html>
